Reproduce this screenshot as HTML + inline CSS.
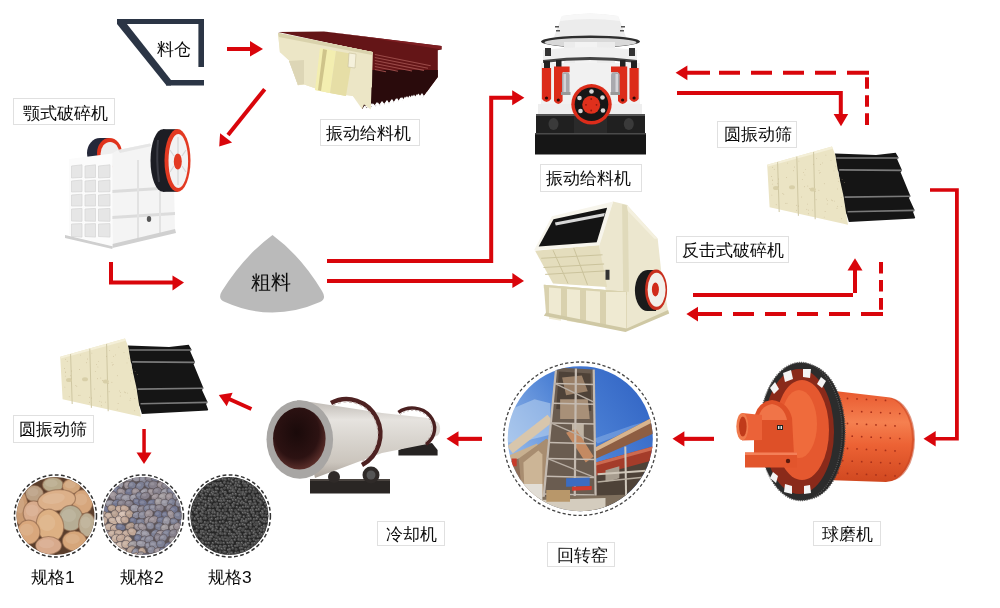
<!DOCTYPE html>
<html><head><meta charset="utf-8">
<style>
html,body{margin:0;padding:0;background:#fff;}
body{width:1000px;height:608px;position:relative;overflow:hidden;font-family:"Liberation Sans",sans-serif;}
svg{position:absolute;left:0;top:0;}
.bx{position:absolute;box-sizing:border-box;border:1px solid #e0e0e0;}
.tx{position:absolute;color:#0a0a0a;font-size:17.4px;line-height:1;white-space:nowrap;will-change:transform;}
</style></head><body>
<svg width="1000" height="608" viewBox="0 0 1000 608">
<defs></defs>
<!-- hopper -->
<g fill="#2b3545"><rect x="117" y="19" width="87" height="5"/><rect x="198.4" y="19" width="5.6" height="48"/><rect x="166" y="80" width="38" height="5.5"/><polygon points="117,19 123,19 171,80 171,85.5 166.5,85.5 117,24"/></g>
<g id="arrows" fill="#d9050b" stroke="none">
 <!-- hopper -> feeder -->
 <rect x="227" y="47" width="24" height="4"/><path d="M250,41 L263,49 L250,56.5Z"/>
 <!-- feeder -> jaw diagonal -->
 <path d="M264.7,89.2 L228,135" stroke="#d9050b" stroke-width="4"/><path d="M219.2,146.5 L220.1,133.2 L232.1,142.4Z"/>
 <!-- L arrow -->
 <path d="M109,262 H113 V280.5 H173 V284.5 H109Z"/><path d="M172.5,275.5 L184,282.5 L172.5,290.5Z"/>
 <!-- up path to cone -->
 <path d="M327,259 H489.2 V95.8 H513 V99.7 H493.2 V263 H327Z"/><path d="M512.2,90.2 L524.4,97.8 L512.2,105.3Z"/>
 <rect x="327" y="279" width="186" height="4"/><path d="M512.4,273 L524,281 L512.4,288Z"/>
 <!-- cone -> screen solid -->
 <path d="M677,91 H842.8 V115 H838.8 V95 H677Z"/><path d="M833.6,114 L848.2,114 L841,126.3Z"/>
 <!-- dashed return top -->
 <path d="M675.6,72.8 L687.4,65.6 L687.4,80.3Z"/>
 <path d="M687,72.8 H869" stroke="#d9050b" stroke-width="4" stroke-dasharray="23 9 21 11 21 11 21 11 21 11 23"/>
 <path d="M867,73 V125" stroke="#d9050b" stroke-width="4" stroke-dasharray="0 4.3 11.5 6.5 11.5 6.5 11.5"/>
 <!-- impact solid up -->
 <path d="M693,293 H857 V270 H853 V297 H693Z"/><path d="M847.5,270.5 L862.5,270.5 L855,258.3Z"/>
 <!-- dashed return bottom -->
 <path d="M686.4,314.1 L698,306.8 L698,321.5Z"/>
 <path d="M697,314.1 H883" stroke="#d9050b" stroke-width="4" stroke-dasharray="25 11 21 11 21 11 21 11 21 11 22"/>
 <path d="M881,262 V310" stroke="#d9050b" stroke-width="4" stroke-dasharray="11.5 6.5 11.5 6.5 11.8"/>
 <!-- screen -> ball mill -->
 <path d="M930,188.2 H958.8 V440.5 H935 V437 H955 V191.8 H930Z"/><path d="M923.5,438.8 L935.7,431 L935.7,446.5Z"/>
 <!-- ball -> kiln -->
 <rect x="684" y="436.8" width="30" height="4.1"/><path d="M672.5,438.8 L684.4,431.2 L684.4,446.5Z"/>
 <!-- kiln -> cooler -->
 <rect x="458" y="436.8" width="24" height="4.1"/><path d="M446.5,438.8 L458.5,431.2 L458.5,446.5Z"/>
 <!-- cooler -> screen2 -->
 <path d="M251.4,409 L228,398.5" stroke="#d9050b" stroke-width="4"/><path d="M218.8,395.1 L232.6,392.8 L226.7,406.3Z"/>
 <!-- down -->
 <rect x="142.3" y="429" width="3.5" height="24"/><path d="M136.5,452.5 L151.5,452.5 L144,464Z"/>
</g>
<g id="feeder">
 <polygon points="278,32 324,31.5 441.5,46 441.5,49.5 437.8,50.2 437.8,77 423,97 362,109 371,52" fill="#641517"/>
 <polygon points="324,31.5 441.5,46 441.5,49.5 372,38" fill="#7e1e22"/>
 <polygon points="372,70 437.8,70 437.8,77 423,97 362,109" fill="#2a0b0c"/>
 <g stroke="#9a4a48" stroke-width="1.1">
  <line x1="374.8" y1="54.5" x2="430.7" y2="65.7"/><line x1="374.8" y1="57.5" x2="428" y2="68.2"/><line x1="374.8" y1="60.5" x2="424" y2="70.4"/><line x1="374.8" y1="63.5" x2="412" y2="71"/><line x1="374.8" y1="66.5" x2="398" y2="71.2"/><line x1="374.8" y1="69.5" x2="386" y2="71.8"/>
 </g>
 <path d="M362,109.5 l2.5,-4 l2,3 l2.5,-4 l2,3 l2.5,-4 l2,3 l2.5,-4 l2,3 l2.5,-4 l2,3 l2.5,-4 l2,3 l2.5,-4 l2,3 l2.5,-4 l2,3 l2.5,-4 l2,3 l2.5,-4 l2,3 l2.5,-4 l2,3 l2.5,-4 l2,3 l2.5,-4 l2,3 L423,97.5 L423,112 L362,112Z" fill="#fff"/>
 <polygon points="278,33 372.6,52 372,86 362,109 352.8,96.1 325.8,92 304.2,84.4 297.9,85.3 289.8,61 279.9,52" fill="#ede7c8"/>
 <polygon points="278,33 372.6,52 372,55 279,37" fill="#d8d0aa"/>
 <polygon points="320,48 336,51 330,93 315,90" fill="#f2ebb0"/>
 <polygon points="323,49 327,50 321,91 318,90" fill="#cfc48a"/>
 <polygon points="336,51 353,54 346,96 330,93" fill="#e8e0a8"/>
 <polygon points="289,61 304,60 304,84 298,85" fill="#ddd6b6"/>
 <polygon points="351,54 357,55 356,68 350,67" fill="#f5f1dc" stroke="#c7bf9c" stroke-width="0.6"/>
 <polygon points="353,70 372,72 372,86 362,100 354,96" fill="#e2dcbc"/>
</g>
 <path d="M364,108 l3,-4 l2,3 l3,-4 l2,3 l3,-4 l2,3 l3,-4 l2,3 l3,-4 l2,3 l3,-4 l2,3 l3,-4 l2,3 l3,-4 l2,3 l3,-4 l2,3 l3,-4 l2,3 l3,-4 l2,3 l3,-4 l2,3 l3,-4 L428,96Z" fill="#fff"/>
 <polygon points="278,33 372.6,52 370.8,109.6 352.8,96.1 325.8,92 304.2,84.4 297.9,85.3 289.8,61 279.9,52" fill="#ece6c6"/>
 <polygon points="278,33 372.6,52 372,55 279,37" fill="#d9d2ac"/>
 <polygon points="320,48 336,51 330,93 315,90" fill="#f3eeb0"/>
 <polygon points="323,49 327,50 321,91 318,90" fill="#cfc48a"/>
 <polygon points="336,51 353,54 346,96 330,93" fill="#e6dea6"/>
 <polygon points="289,61 304,60 304,84 298,85" fill="#ddd6b6"/>
 <polygon points="349,53 356,54 355,68 348,67" fill="#f5f1dc" stroke="#c7bf9c" stroke-width="0.6"/>
</g>
<g id="jaw">
 <!-- small flywheel -->
 <ellipse cx="100" cy="153" rx="13" ry="15" fill="#25283a"/>
 <rect x="100" y="138" width="9" height="30" fill="#25283a"/>
 <ellipse cx="109.5" cy="153" rx="12.5" ry="15" fill="#e0331c"/>
 <ellipse cx="110" cy="154" rx="9.5" ry="12" fill="#eeeeee"/>
 <!-- body side -->
 <polygon points="112,153.5 118,150 150,143.5 152,170 174,182 175,232 112.4,246.3" fill="#f4f4f4"/>
 <polygon points="118,150 150,143.5 152,146 120,153" fill="#e6e6e6"/>
 <polygon points="112,190 175,186 175,189 112,193" fill="#dcdcdc"/>
 <polygon points="112,216 175,212 175,215 112,219" fill="#dcdcdc"/>
 <rect x="137" y="160" width="2" height="78" fill="#e2e2e2"/>
 <rect x="159" y="184" width="2" height="50" fill="#e2e2e2"/>
 <ellipse cx="149" cy="219" rx="2.2" ry="3" fill="#555"/>
 <polygon points="112.4,244 175,229 176,233 112.4,248" fill="#d0d0d0"/>
 <!-- front grid face -->
 <polygon points="69,159 112.4,153.5 112.4,246.3 69,235" fill="#fbfbfb"/>
 <g fill="#e6e6e6" stroke="#d4d4d4" stroke-width="0.7">
  <polygon points="71.5,166 82,164.8 82,177.4 71.5,178"/>
  <polygon points="85,166 95.5,164.8 95.5,177.4 85,178"/>
  <polygon points="98.5,166 110,164.8 110,177.4 98.5,178"/>
  <polygon points="71.5,181 82,180.0 82,191.7 71.5,192"/>
  <polygon points="85,181 95.5,180.0 95.5,191.7 85,192"/>
  <polygon points="98.5,181 110,180.0 110,191.7 98.5,192"/>
  <polygon points="71.5,195 82,194.2 82,206.0 71.5,206"/>
  <polygon points="85,195 95.5,194.2 95.5,206.0 85,206"/>
  <polygon points="98.5,195 110,194.2 110,206.0 98.5,206"/>
  <polygon points="71.5,209 82,208.4 82,221.3 71.5,221"/>
  <polygon points="85,209 95.5,208.4 95.5,221.3 85,221"/>
  <polygon points="98.5,209 110,208.4 110,221.3 98.5,221"/>
  <polygon points="71.5,224 82,223.6 82,237.1 71.5,236.5"/>
  <polygon points="85,224 95.5,223.6 95.5,237.1 85,236.5"/>
  <polygon points="98.5,224 110,223.6 110,237.1 98.5,236.5"/>
 </g>
 <polygon points="65,235 112.4,246.3 112.4,249 65,238" fill="#cfcfcf"/>
 <!-- big flywheel -->
 <ellipse cx="163" cy="160.5" rx="12.5" ry="31.3" fill="#1c1d24"/>
 <rect x="163" y="129.2" width="14.5" height="62.6" fill="#1c1d24"/>
 <path d="M158,140 Q156,160 159,182" stroke="#3a3b44" stroke-width="2" fill="none"/>
 <ellipse cx="177.5" cy="160.5" rx="13" ry="31.5" fill="#e33a22"/>
 <ellipse cx="178.3" cy="161" rx="9.8" ry="27" fill="#f2f2f2"/>
 <g stroke="#d6d6d6" stroke-width="1.2"><line x1="178" y1="137" x2="178" y2="153"/><line x1="178" y1="169" x2="178" y2="185"/><line x1="170" y1="150" x2="174" y2="156"/><line x1="186" y1="150" x2="182" y2="156"/><line x1="170" y1="172" x2="174" y2="166"/><line x1="186" y1="172" x2="182" y2="166"/></g>
 <ellipse cx="177.8" cy="161.5" rx="4" ry="8" fill="#e33a22"/>
</g>
<g id="cone">
 <!-- dome -->
 <path d="M562,16 Q590,11 618,16 L626,37 H554Z" fill="#ececec"/>
 <path d="M562,16 Q590,11 618,16 L620,21 Q590,17 560,21Z" fill="#f7f7f7"/>
 <g fill="#555"><rect x="555" y="26" width="4" height="1.5"/><rect x="556" y="30" width="4" height="1.5"/><rect x="621" y="26" width="4" height="1.5"/><rect x="620" y="30" width="4" height="1.5"/></g>
 <!-- ring -->
 <ellipse cx="590.5" cy="41.5" rx="49.5" ry="6" fill="#2e2e2e"/>
 <ellipse cx="590.5" cy="42.5" rx="46" ry="4.5" fill="#d9d9d9"/>
 <!-- body -->
 <rect x="564" y="42" width="51" height="70" fill="#ececec"/>
 <rect x="575" y="42" width="22" height="70" fill="#f3f3f3"/>
 <!-- collar -->
 <path d="M543,50 Q590,44 637,50 V62 Q590,56 543,62Z" fill="#f0f0f0"/>
 <path d="M543,60 Q590,54 637,60 V63 Q590,57 543,63Z" fill="#444"/>
 <rect x="545" y="48" width="6" height="8" fill="#333"/><rect x="629" y="48" width="6" height="8" fill="#333"/>
 <!-- side white body -->
 <path d="M541,63 H640 V108 H541Z" fill="#f1f1f1"/>
 <!-- red cylinders -->
 <g fill="#222"><rect x="544" y="61" width="6" height="7"/><rect x="556" y="60" width="5.5" height="7"/><rect x="620" y="60" width="5.5" height="7"/><rect x="631" y="61" width="6" height="7"/></g>
 <g fill="#dc2c1a">
  <path d="M541.9,68 H551.1 V99 Q546.5,105 541.9,99Z"/>
  <path d="M554,66.5 H569.6 V72.3 H562.6 V101 Q558.3,107 554,101Z"/>
  <path d="M611,66.5 H627.2 V101 Q622.6,107 618,101 V72.3 H611Z"/>
  <path d="M629.5,68 H638.7 V99 Q634.1,105 629.5,99Z"/>
 </g>
 <g fill="#2a0a08"><circle cx="546.5" cy="98" r="1.6"/><circle cx="558.3" cy="100" r="1.6"/><circle cx="622.6" cy="100" r="1.6"/><circle cx="634.1" cy="98" r="1.6"/></g>
 <!-- silver accumulators -->
 <rect x="562" y="72.3" width="7.6" height="22" rx="3" fill="#a9a9ae"/><rect x="563.5" y="74" width="2.5" height="19" fill="#d4d4d8"/>
 <rect x="561" y="92" width="9.5" height="3" fill="#999"/>
 <rect x="611" y="72.3" width="8.7" height="22" rx="3" fill="#a9a9ae"/><rect x="615.5" y="74" width="2.5" height="19" fill="#d4d4d8"/>
 <rect x="610.5" y="92" width="9.5" height="3" fill="#999"/>
 <!-- skirt -->
 <rect x="538" y="104" width="104" height="11" fill="#eeeeee"/>
 <!-- base -->
 <rect x="536" y="114" width="109" height="20" fill="#202020"/>
 <rect x="536" y="114" width="109" height="2" fill="#555"/>
 <ellipse cx="553.5" cy="124" rx="5" ry="6" fill="#3a3a3a"/><ellipse cx="628.8" cy="124" rx="5" ry="6" fill="#3a3a3a"/>
 <rect x="574" y="116" width="33" height="18" fill="#2a2a2a"/>
 <rect x="535" y="133" width="111" height="21.5" fill="#161616"/>
 <rect x="535" y="133" width="111" height="1.5" fill="#4a4a4a"/>
 <!-- center wheel -->
 <circle cx="591.5" cy="104.3" r="20.2" fill="#dc2c1a"/>
 <circle cx="591.5" cy="104.3" r="16.8" fill="#161616"/>
 <circle cx="591.2" cy="104.8" r="9" fill="#e0301c"/>
 <g fill="#d8d8d8"><circle cx="591.5" cy="91.5" r="2.3"/><circle cx="602.5" cy="97.5" r="2.3"/><circle cx="603" cy="110.5" r="2.3"/><circle cx="580.5" cy="111" r="2.3"/><circle cx="579.5" cy="98" r="2.3"/></g>
 <g fill="#8a1a10"><circle cx="591.2" cy="99" r="0.9"/><circle cx="596.5" cy="104.8" r="0.9"/><circle cx="586" cy="104.8" r="0.9"/><circle cx="591.2" cy="110.5" r="0.9"/></g>
</g>
<g id="screen1">
 <polygon points="834.9,153.4 876.1,155.1 895.7,152.7 898.5,157.6 897.1,159.0 902.0,170.2 900.6,172.2 910.4,196.0 909.0,198.1 914.5,210.0 913.1,212.1 915.2,217.7 914.5,218.4 848.9,222.1 846.8,214.9 845.1,212.1 843.3,196.7 841.9,195.3 838.4,171.6 837.0,169.5 835.6,159.0" fill="#151515"/>
 <line x1="836.3" y1="158.0" x2="898.5" y2="158.0" stroke="#7a7a7a" stroke-width="1.6"/>
 <line x1="839.1" y1="169.9" x2="902.0" y2="170.4" stroke="#7a7a7a" stroke-width="1.6"/>
 <line x1="844.7" y1="197.1" x2="910.4" y2="196.3" stroke="#7a7a7a" stroke-width="1.6"/>
 <line x1="847.5" y1="211.8" x2="914.5" y2="210.4" stroke="#7a7a7a" stroke-width="1.6"/>
 <polygon points="767.2,164.8 832.0,146.4 835.2,154.4 838.4,173.6 843.2,194.4 848.0,224.8 769.6,207.2" fill="#ebe4c4"/>
 <polygon points="767.2,164.8 832.0,146.4 832.8,148.8 768.0,166.4" fill="#f4efd8"/>
 <line x1="777.6" y1="162.1" x2="779.2" y2="212.0" stroke="#cfc7a2" stroke-width="1"/>
 <line x1="796.8" y1="156.7" x2="798.4" y2="215.8" stroke="#cfc7a2" stroke-width="1"/>
 <line x1="813.6" y1="152.0" x2="815.2" y2="219.2" stroke="#cfc7a2" stroke-width="1"/>
 <ellipse cx="776.0" cy="188.0" rx="3" ry="2" fill="#d8cfa8"/>
 <ellipse cx="792.0" cy="187.2" rx="3" ry="2" fill="#d8cfa8"/>
 <ellipse cx="812.8" cy="189.6" rx="3" ry="2" fill="#d8cfa8"/>
 <g fill="#b5a27a" opacity="0.7"><circle cx="841.7" cy="218.7" r="0.45"/><circle cx="774.2" cy="169.2" r="0.45"/><circle cx="832.7" cy="200.8" r="0.45"/><circle cx="820.2" cy="172.4" r="0.45"/><circle cx="815.4" cy="191.4" r="0.45"/><circle cx="813.6" cy="164.2" r="0.45"/><circle cx="802.3" cy="179.4" r="0.45"/><circle cx="824.2" cy="217.1" r="0.45"/><circle cx="841.2" cy="197.6" r="0.45"/><circle cx="803.4" cy="172.4" r="0.45"/><circle cx="772.7" cy="167.3" r="0.45"/><circle cx="804.9" cy="174.9" r="0.45"/><circle cx="798.5" cy="206.0" r="0.45"/><circle cx="809.4" cy="188.5" r="0.45"/><circle cx="787.7" cy="163.1" r="0.45"/><circle cx="794.4" cy="167.0" r="0.45"/><circle cx="808.3" cy="213.8" r="0.45"/><circle cx="820.6" cy="164.3" r="0.45"/><circle cx="837.0" cy="208.3" r="0.45"/><circle cx="825.1" cy="211.5" r="0.45"/><circle cx="827.2" cy="204.0" r="0.45"/><circle cx="796.5" cy="210.3" r="0.45"/><circle cx="842.1" cy="179.4" r="0.45"/><circle cx="826.6" cy="198.9" r="0.45"/><circle cx="804.6" cy="186.8" r="0.45"/><circle cx="806.8" cy="209.3" r="0.45"/><circle cx="807.6" cy="204.1" r="0.45"/><circle cx="796.5" cy="205.2" r="0.45"/><circle cx="837.5" cy="188.9" r="0.45"/><circle cx="812.6" cy="210.1" r="0.45"/><circle cx="824.3" cy="183.7" r="0.45"/><circle cx="786.6" cy="177.5" r="0.45"/><circle cx="822.5" cy="162.9" r="0.45"/><circle cx="838.1" cy="178.6" r="0.45"/><circle cx="838.4" cy="181.3" r="0.45"/><circle cx="841.8" cy="206.5" r="0.45"/><circle cx="807.8" cy="186.0" r="0.45"/><circle cx="818.9" cy="190.2" r="0.45"/><circle cx="793.4" cy="170.8" r="0.45"/><circle cx="808.4" cy="210.1" r="0.45"/><circle cx="816.7" cy="158.4" r="0.45"/><circle cx="831.5" cy="200.0" r="0.45"/><circle cx="838.1" cy="174.1" r="0.45"/><circle cx="825.9" cy="155.1" r="0.45"/><circle cx="819.0" cy="170.4" r="0.45"/><circle cx="787.0" cy="203.3" r="0.45"/><circle cx="778.0" cy="186.9" r="0.45"/><circle cx="834.0" cy="170.9" r="0.45"/><circle cx="785.8" cy="203.3" r="0.45"/><circle cx="801.7" cy="197.0" r="0.45"/><circle cx="772.4" cy="180.6" r="0.45"/><circle cx="782.9" cy="193.5" r="0.45"/><circle cx="776.2" cy="204.8" r="0.45"/><circle cx="771.9" cy="195.1" r="0.45"/><circle cx="771.6" cy="176.5" r="0.45"/><circle cx="831.0" cy="160.6" r="0.45"/><circle cx="783.8" cy="194.4" r="0.45"/><circle cx="798.9" cy="161.1" r="0.45"/><circle cx="844.3" cy="182.5" r="0.45"/><circle cx="772.7" cy="179.9" r="0.45"/><circle cx="816.1" cy="199.7" r="0.45"/><circle cx="778.5" cy="179.0" r="0.45"/><circle cx="772.3" cy="184.1" r="0.45"/><circle cx="827.4" cy="200.6" r="0.45"/><circle cx="837.7" cy="206.3" r="0.45"/><circle cx="834.7" cy="201.1" r="0.45"/><circle cx="805.5" cy="169.6" r="0.45"/><circle cx="819.6" cy="173.0" r="0.45"/><circle cx="777.7" cy="183.7" r="0.45"/><circle cx="835.6" cy="166.1" r="0.45"/></g>
</g>
<g id="screen2" transform="translate(-707,192)">
 <polygon points="834.9,153.4 876.1,155.1 895.7,152.7 898.5,157.6 897.1,159.0 902.0,170.2 900.6,172.2 910.4,196.0 909.0,198.1 914.5,210.0 913.1,212.1 915.2,217.7 914.5,218.4 848.9,222.1 846.8,214.9 845.1,212.1 843.3,196.7 841.9,195.3 838.4,171.6 837.0,169.5 835.6,159.0" fill="#151515"/>
 <line x1="836.3" y1="158.0" x2="898.5" y2="158.0" stroke="#7a7a7a" stroke-width="1.6"/>
 <line x1="839.1" y1="169.9" x2="902.0" y2="170.4" stroke="#7a7a7a" stroke-width="1.6"/>
 <line x1="844.7" y1="197.1" x2="910.4" y2="196.3" stroke="#7a7a7a" stroke-width="1.6"/>
 <line x1="847.5" y1="211.8" x2="914.5" y2="210.4" stroke="#7a7a7a" stroke-width="1.6"/>
 <polygon points="767.2,164.8 832.0,146.4 835.2,154.4 838.4,173.6 843.2,194.4 848.0,224.8 769.6,207.2" fill="#ebe4c4"/>
 <polygon points="767.2,164.8 832.0,146.4 832.8,148.8 768.0,166.4" fill="#f4efd8"/>
 <line x1="777.6" y1="162.1" x2="779.2" y2="212.0" stroke="#cfc7a2" stroke-width="1"/>
 <line x1="796.8" y1="156.7" x2="798.4" y2="215.8" stroke="#cfc7a2" stroke-width="1"/>
 <line x1="813.6" y1="152.0" x2="815.2" y2="219.2" stroke="#cfc7a2" stroke-width="1"/>
 <ellipse cx="776.0" cy="188.0" rx="3" ry="2" fill="#d8cfa8"/>
 <ellipse cx="792.0" cy="187.2" rx="3" ry="2" fill="#d8cfa8"/>
 <ellipse cx="812.8" cy="189.6" rx="3" ry="2" fill="#d8cfa8"/>
 <g fill="#b5a27a" opacity="0.7"><circle cx="841.7" cy="218.7" r="0.45"/><circle cx="774.2" cy="169.2" r="0.45"/><circle cx="832.7" cy="200.8" r="0.45"/><circle cx="820.2" cy="172.4" r="0.45"/><circle cx="815.4" cy="191.4" r="0.45"/><circle cx="813.6" cy="164.2" r="0.45"/><circle cx="802.3" cy="179.4" r="0.45"/><circle cx="824.2" cy="217.1" r="0.45"/><circle cx="841.2" cy="197.6" r="0.45"/><circle cx="803.4" cy="172.4" r="0.45"/><circle cx="772.7" cy="167.3" r="0.45"/><circle cx="804.9" cy="174.9" r="0.45"/><circle cx="798.5" cy="206.0" r="0.45"/><circle cx="809.4" cy="188.5" r="0.45"/><circle cx="787.7" cy="163.1" r="0.45"/><circle cx="794.4" cy="167.0" r="0.45"/><circle cx="808.3" cy="213.8" r="0.45"/><circle cx="820.6" cy="164.3" r="0.45"/><circle cx="837.0" cy="208.3" r="0.45"/><circle cx="825.1" cy="211.5" r="0.45"/><circle cx="827.2" cy="204.0" r="0.45"/><circle cx="796.5" cy="210.3" r="0.45"/><circle cx="842.1" cy="179.4" r="0.45"/><circle cx="826.6" cy="198.9" r="0.45"/><circle cx="804.6" cy="186.8" r="0.45"/><circle cx="806.8" cy="209.3" r="0.45"/><circle cx="807.6" cy="204.1" r="0.45"/><circle cx="796.5" cy="205.2" r="0.45"/><circle cx="837.5" cy="188.9" r="0.45"/><circle cx="812.6" cy="210.1" r="0.45"/><circle cx="824.3" cy="183.7" r="0.45"/><circle cx="786.6" cy="177.5" r="0.45"/><circle cx="822.5" cy="162.9" r="0.45"/><circle cx="838.1" cy="178.6" r="0.45"/><circle cx="838.4" cy="181.3" r="0.45"/><circle cx="841.8" cy="206.5" r="0.45"/><circle cx="807.8" cy="186.0" r="0.45"/><circle cx="818.9" cy="190.2" r="0.45"/><circle cx="793.4" cy="170.8" r="0.45"/><circle cx="808.4" cy="210.1" r="0.45"/><circle cx="816.7" cy="158.4" r="0.45"/><circle cx="831.5" cy="200.0" r="0.45"/><circle cx="838.1" cy="174.1" r="0.45"/><circle cx="825.9" cy="155.1" r="0.45"/><circle cx="819.0" cy="170.4" r="0.45"/><circle cx="787.0" cy="203.3" r="0.45"/><circle cx="778.0" cy="186.9" r="0.45"/><circle cx="834.0" cy="170.9" r="0.45"/><circle cx="785.8" cy="203.3" r="0.45"/><circle cx="801.7" cy="197.0" r="0.45"/><circle cx="772.4" cy="180.6" r="0.45"/><circle cx="782.9" cy="193.5" r="0.45"/><circle cx="776.2" cy="204.8" r="0.45"/><circle cx="771.9" cy="195.1" r="0.45"/><circle cx="771.6" cy="176.5" r="0.45"/><circle cx="831.0" cy="160.6" r="0.45"/><circle cx="783.8" cy="194.4" r="0.45"/><circle cx="798.9" cy="161.1" r="0.45"/><circle cx="844.3" cy="182.5" r="0.45"/><circle cx="772.7" cy="179.9" r="0.45"/><circle cx="816.1" cy="199.7" r="0.45"/><circle cx="778.5" cy="179.0" r="0.45"/><circle cx="772.3" cy="184.1" r="0.45"/><circle cx="827.4" cy="200.6" r="0.45"/><circle cx="837.7" cy="206.3" r="0.45"/><circle cx="834.7" cy="201.1" r="0.45"/><circle cx="805.5" cy="169.6" r="0.45"/><circle cx="819.6" cy="173.0" r="0.45"/><circle cx="777.7" cy="183.7" r="0.45"/><circle cx="835.6" cy="166.1" r="0.45"/></g>
</g>

<g id="impact">
 <polygon points="599.0,244.5 612.9,201.4 626.7,204.7 657.7,238.7 661.2,270.9 668.1,311.2 623.2,330.8 605.9,291.7" fill="#ece7cf"/>
 <polygon points="622.1,204.2 627.8,205.4 629.0,291.7 623.2,291.7" fill="#e0dabb"/>
 <polygon points="626.7,204.7 657.7,238.7 654.3,238.7 627.8,211.1" fill="#f4f0de"/>
 <polygon points="543.8,284.8 626.7,291.7 626.7,330.8 546.1,314.7" fill="#d9d1ae"/>
 <polygon points="543.8,284.8 626.7,291.7 626.7,295.1 543.8,288.2" fill="#d9d2ae"/>
 <polygon points="549,287.5 561,288.5 561,320.8 549,318.8" fill="#efeAD2"/>
 <polygon points="567,289 580,290 580,323 567,321" fill="#efeAD2"/>
 <polygon points="586,290.5 600,291.5 600,326 586,323.5" fill="#efeAD2"/>
 <polygon points="606,292 626,292 626,330.5 606,326.5" fill="#efeAD2"/>
 <polygon points="546.1,312.4 626.7,328.5 668.1,310.1 669.2,313.5 625.5,331.9 543.8,315.8" fill="#cfc8a4"/>
 <polygon points="535.1,250.7 599.0,244.9 607.1,287.1 553.0,283.6" fill="#e4ddbd"/>
 <line x1="541.2" y1="258.3" x2="602.5" y2="254.8" stroke="#cbc39c" stroke-width="1"/>
 <line x1="543.5" y1="267.5" x2="604.1" y2="264.0" stroke="#cbc39c" stroke-width="1"/>
 <line x1="545.2" y1="274.4" x2="605.3" y2="270.9" stroke="#cbc39c" stroke-width="1"/>
 <line x1="553.0" y1="250.2" x2="568.0" y2="283.6" stroke="#cbc39c" stroke-width="1"/>
 <line x1="573.7" y1="247.9" x2="587.5" y2="284.8" stroke="#cbc39c" stroke-width="1"/>
 <polygon points="534.1,250.2 551.9,216.2 613.3,201.4 599.5,245.2" fill="#f7f5ec"/>
 <polygon points="538.7,246.6 553.5,219.2 607.1,207.7 596.7,242.2" fill="#141414"/>
 <polygon points="554.9,222.6 604.8,213.0 604.1,216.2 555.8,225.4" fill="#d8d8d8"/>
 <rect x="605.5" y="269.8" width="4" height="10" fill="#333"/>
 <ellipse cx="647.4" cy="290.5" rx="12.5" ry="20.5" fill="#1b1b1b"/>
 <rect x="647.4" y="270.0" width="8.7" height="41" fill="#1b1b1b"/>
 <ellipse cx="656.1" cy="289.8" rx="11" ry="20.3" fill="#c8301f"/>
 <ellipse cx="656.6" cy="289.8" rx="9" ry="17" fill="#f2f0ea"/>
 <ellipse cx="655.4" cy="289.4" rx="3.5" ry="7" fill="#d12a1a"/>
</g>
<g id="ballmill">
 <defs>
  <linearGradient id="bmg" x1="0" y1="0" x2="0" y2="1">
   <stop offset="0" stop-color="#e8582e"/><stop offset="0.35" stop-color="#f58050"/><stop offset="0.6" stop-color="#ec6234"/><stop offset="1" stop-color="#d04820"/>
  </linearGradient>
 </defs>
 <!-- cylinder -->
 <path d="M826,390 L886,397 A28,42.5 0 0 1 886,482 L826,480Z" fill="url(#bmg)"/>
 <path d="M884,397 A28,42.5 0 0 1 884,482 L890,481 A25,41.5 0 0 0 890,398Z" fill="#c94320" opacity="0.55"/>
 <g fill="#a8301a"><circle cx="838.0" cy="398.0" r="0.9"/><circle cx="847.5" cy="398.5" r="0.9"/><circle cx="857.0" cy="398.9" r="0.9"/><circle cx="866.5" cy="399.4" r="0.9"/><circle cx="876.0" cy="399.9" r="0.9"/><circle cx="885.5" cy="400.4" r="0.9"/><circle cx="842.7" cy="410.7" r="0.9"/><circle cx="852.2" cy="411.2" r="0.9"/><circle cx="861.7" cy="411.7" r="0.9"/><circle cx="871.2" cy="412.2" r="0.9"/><circle cx="880.7" cy="412.6" r="0.9"/><circle cx="890.2" cy="413.1" r="0.9"/><circle cx="899.7" cy="413.6" r="0.9"/><circle cx="838.0" cy="423.0" r="0.9"/><circle cx="847.5" cy="423.5" r="0.9"/><circle cx="857.0" cy="423.9" r="0.9"/><circle cx="866.5" cy="424.4" r="0.9"/><circle cx="876.0" cy="424.9" r="0.9"/><circle cx="885.5" cy="425.4" r="0.9"/><circle cx="895.0" cy="425.9" r="0.9"/><circle cx="842.7" cy="435.7" r="0.9"/><circle cx="852.2" cy="436.2" r="0.9"/><circle cx="861.7" cy="436.7" r="0.9"/><circle cx="871.2" cy="437.2" r="0.9"/><circle cx="880.7" cy="437.6" r="0.9"/><circle cx="890.2" cy="438.1" r="0.9"/><circle cx="899.7" cy="438.6" r="0.9"/><circle cx="838.0" cy="448.0" r="0.9"/><circle cx="847.5" cy="448.5" r="0.9"/><circle cx="857.0" cy="448.9" r="0.9"/><circle cx="866.5" cy="449.4" r="0.9"/><circle cx="876.0" cy="449.9" r="0.9"/><circle cx="885.5" cy="450.4" r="0.9"/><circle cx="895.0" cy="450.9" r="0.9"/><circle cx="842.7" cy="460.7" r="0.9"/><circle cx="852.2" cy="461.2" r="0.9"/><circle cx="861.7" cy="461.7" r="0.9"/><circle cx="871.2" cy="462.2" r="0.9"/><circle cx="880.7" cy="462.6" r="0.9"/><circle cx="890.2" cy="463.1" r="0.9"/><circle cx="899.7" cy="463.6" r="0.9"/><circle cx="838.0" cy="473.0" r="0.9"/><circle cx="847.5" cy="473.5" r="0.9"/><circle cx="857.0" cy="473.9" r="0.9"/><circle cx="866.5" cy="474.4" r="0.9"/><circle cx="876.0" cy="474.9" r="0.9"/><circle cx="885.5" cy="475.4" r="0.9"/><circle cx="895.0" cy="475.9" r="0.9"/></g>
 <!-- gear ring -->
 <ellipse cx="807" cy="432" rx="38" ry="67" fill="#262626"/>
 <ellipse cx="807" cy="432" rx="38" ry="67" fill="none" stroke="#4a4a4a" stroke-width="1.5" stroke-dasharray="1 1.3"/>
 <ellipse cx="800.9" cy="431.5" rx="41.3" ry="69.1" fill="#2c2c2c"/>
 <ellipse cx="800.9" cy="431.5" rx="41.3" ry="69.1" fill="none" stroke="#555" stroke-width="1.4" stroke-dasharray="1 1.2"/>
 <ellipse cx="799" cy="431.5" rx="35" ry="62.5" fill="#8a2a1a"/>
 <g fill="#f4f4f4">
  <path d="M783,373 l8,-3 l2,9 l-8,3Z"/><path d="M803,369 l8,0 l-1,9 l-7,-1Z"/><path d="M821,377 l5,4 l-4,7 l-5,-4Z"/>
  <path d="M770,388 l5,-6 l4,7 l-5,5Z"/><path d="M765,410 l3,-6 l4,5 l-3,6Z"/><path d="M765,455 l4,5 l3,-6 l-4,-4Z"/><path d="M770,478 l6,5 l2,-7 l-5,-4Z"/><path d="M784,492 l8,2 l0,-8 l-7,-2Z"/><path d="M804,494 l7,-1 l-1,-8 l-6,1Z"/>
 </g>
 <ellipse cx="802" cy="430" rx="27" ry="50" fill="#e5582f"/>
 <ellipse cx="799" cy="424" rx="18" ry="34" fill="#ef6b3c"/>
 <!-- bearing & trunnion -->
 <path d="M754,455 L754,420 Q756,402 772,400 Q788,402 792,418 L794,455Z" fill="#de5028"/>
 <path d="M758,420 Q760,406 772,404 Q784,406 787,420Z" fill="#f07448"/>
 <path d="M745,452.5 H797 V467.5 H745Z" fill="#e2552c"/>
 <path d="M745,452.5 H797 V455 H745Z" fill="#f48058"/>
 <circle cx="788" cy="461" r="2.2" fill="#5a1a0e"/>
 <path d="M742,413 L762,415 L762,440 L742,440.4Z" fill="#eb6238"/>
 <ellipse cx="742.3" cy="426.6" rx="6" ry="13.5" fill="#f07a4c"/>
 <ellipse cx="742.8" cy="426.6" rx="3.8" ry="10" fill="#c03a1a"/>
 <rect x="777" y="425" width="6" height="5" fill="#222"/><rect x="778" y="426" width="1.5" height="3" fill="#ddd"/><rect x="780.5" y="426" width="1.5" height="3" fill="#ddd"/>
</g>
<g id="cooler">
 <defs>
  <linearGradient id="tubeg" x1="0" y1="0" x2="0" y2="1">
   <stop offset="0" stop-color="#bdb8b2"/><stop offset="0.25" stop-color="#e6e3df"/><stop offset="0.5" stop-color="#d9d5cf"/><stop offset="0.8" stop-color="#cbc5bd"/><stop offset="1" stop-color="#a9a199"/>
  </linearGradient>
  <radialGradient id="holeg" cx="0.45" cy="0.4" r="0.6">
   <stop offset="0" stop-color="#1a0a0a"/><stop offset="0.7" stop-color="#2c1212"/><stop offset="1" stop-color="#5a2e2a"/>
  </radialGradient>
 </defs>
 <!-- base 2 -->
 <path d="M398.4,450 L410,446 L432,443 L437.6,450 L437.6,455.4 L398.4,455.4Z" fill="#262322"/>
 <!-- tube -->
 <path d="M297,400 L330,405 L382,413 L426,417.8 L436,421.5 A4,7 0 0 1 436,436 L426,444.3 L382,453 L315,478 Z" fill="url(#tubeg)"/>
 <!-- riding ring 2 -->
 <path d="M398.4,412.3 A20.5,18.5 0 1 1 426,444.3" fill="none" stroke="#4a2020" stroke-width="3.4"/>
 <path d="M400,414.5 A18.5,17 0 1 1 425,442" fill="none" stroke="#b8aaa8" stroke-width="1" stroke-dasharray="2 2"/>
 <!-- base 1 -->
 <rect x="310" y="479" width="80" height="14.5" fill="#2a2624"/>
 <rect x="310" y="479" width="80" height="2" fill="#4a4440"/>
 <circle cx="371" cy="475" r="8.5" fill="#2f2a28"/><circle cx="371" cy="475" r="4.5" fill="#555"/>
 <circle cx="334" cy="477" r="6" fill="#2f2a28"/>
 <!-- riding ring 1 -->
 <path d="M331,403 A33,34 0 1 1 362,465" fill="none" stroke="#4e2222" stroke-width="4.5"/>
 <path d="M333,405.5 A30.5,31.5 0 1 1 361,462" fill="none" stroke="#c9bcb8" stroke-width="1.2" stroke-dasharray="3 2.5"/>
 <!-- front ring -->
 <ellipse cx="299.8" cy="439.5" rx="33.3" ry="39.3" fill="#a8a6a4"/>
 <ellipse cx="299.3" cy="438.6" rx="26.3" ry="31" fill="url(#holeg)"/>
</g>
<g id="kiln">
 <defs>
  <clipPath id="kclip"><circle cx="580.3" cy="438.7" r="72.5"/></clipPath>
  <linearGradient id="skyg" x1="1" y1="0" x2="0" y2="0.7">
   <stop offset="0" stop-color="#2a5cbf"/><stop offset="0.5" stop-color="#4a7fd4"/><stop offset="1" stop-color="#a6c6ee"/>
  </linearGradient>
 </defs>
 <g clip-path="url(#kclip)">
  <rect x="500" y="360" width="160" height="160" fill="url(#skyg)"/>
  <polygon points="506.8,411.1 534.5,399.2 550.3,403.2 550.3,434.7 518.7,442.6 506.8,442.6" fill="#c4daf2" opacity="0.5"/>
  <line x1="510.0" y1="449.7" x2="550.3" y2="418.2" stroke="#d8c6ac" stroke-width="9"/>
  <line x1="510.8" y1="458.4" x2="538.4" y2="446.6" stroke="#c8b090" stroke-width="7"/>
  <polygon points="518.7,458.4 546.3,438.7 552.2,442.6 552.2,501.8 518.7,501.8" fill="#a88d70"/>
  <polygon points="523.4,462.4 538.4,450.5 542.4,454.5 542.4,497.9 524.6,497.9" fill="#ccb596"/>
  <polygon points="506.8,462.4 518.7,458.4 522.6,501.8 506.8,501.8" fill="#8e6e58"/>
  <polygon points="511.6,458.4 516.7,458.4 516.7,466.3 511.6,466.3" fill="#c83a2a"/>
  <polygon points="593.7,438.7 633.2,424.9 656.8,418.9 656.8,422.9 633.2,430.0 597.6,443.4" fill="#b0caee" opacity="0.35"/>
  <polygon points="583.4,478.9 650.9,458.4 656.8,456.8 656.8,521.6 583.4,521.6" fill="#4e4238"/>
  <polygon points="583.4,465.9 650.9,447.0 656.8,445.8 656.8,459.2 583.4,478.9" fill="#a43c2a"/>
  <polygon points="583.4,465.9 650.9,447.0 656.8,445.8 656.8,448.9 583.4,469.1" fill="#cc6a50"/>
  <polygon points="586.6,452.1 650.9,418.2 656.8,416.6 656.8,432.0 588.2,462.0" fill="#8e5e42"/>
  <polygon points="586.6,452.1 650.9,418.2 656.8,416.6 656.8,420.1 587.4,455.7" fill="#d8b48e"/>
  <polygon points="605.5,470.3 619.3,466.3 619.3,478.2 605.5,482.1" fill="#a89e90"/>
  <polygon points="556.2,367.6 593.7,369.6 595.7,501.8 543.2,501.8" fill="#6a5c50"/>
  <polygon points="558.9,371.6 590.5,373.6 591.3,411.1 556.2,409.1" fill="#4e4238"/>
  <polygon points="562.1,377.5 581.8,375.5 587.8,391.3 566.1,395.3" fill="#9a8068"/>
  <polygon points="560.1,399.2 587.8,399.2 589.7,418.9 560.1,418.9" fill="#a89078"/>
  <polygon points="572.0,422.9 583.8,422.9 583.8,442.6 572.0,442.6" fill="#c0b4a4"/>
  <polygon points="566.1,432.8 575.9,428.8 593.7,456.4 585.8,462.4" fill="#c48a62"/>
  <line x1="556.2" y1="367.6" x2="543.2" y2="501.8" stroke="#c4bab0" stroke-width="2.2"/>
  <line x1="593.7" y1="369.6" x2="595.7" y2="501.8" stroke="#c4bab0" stroke-width="2.2"/>
  <line x1="575.9" y1="368.4" x2="574.7" y2="501.8" stroke="#c4bab0" stroke-width="2.2"/>
  <line x1="554.6" y1="383.4" x2="594.5" y2="384.6" stroke="#c4bab0" stroke-width="1.5"/>
  <line x1="552.6" y1="403.2" x2="594.5" y2="404.3" stroke="#c4bab0" stroke-width="1.5"/>
  <line x1="550.7" y1="422.9" x2="594.5" y2="424.1" stroke="#c4bab0" stroke-width="1.5"/>
  <line x1="548.7" y1="442.6" x2="594.5" y2="443.8" stroke="#c4bab0" stroke-width="1.5"/>
  <line x1="547.1" y1="458.4" x2="594.5" y2="459.6" stroke="#c4bab0" stroke-width="1.5"/>
  <line x1="545.3" y1="476.2" x2="594.5" y2="477.4" stroke="#c4bab0" stroke-width="1.5"/>
  <line x1="543.6" y1="493.9" x2="594.5" y2="495.1" stroke="#c4bab0" stroke-width="1.5"/>
  <line x1="554.6" y1="383.4" x2="594.5" y2="402.4" stroke="#b8aea4" stroke-width="1.3"/>
  <line x1="550.7" y1="422.9" x2="594.5" y2="441.8" stroke="#b8aea4" stroke-width="1.3"/>
  <line x1="547.1" y1="458.4" x2="594.5" y2="477.4" stroke="#b8aea4" stroke-width="1.3"/>
  <polygon points="506.8,497.9 656.8,493.9 656.8,521.6 506.8,521.6" fill="#7e6e5c"/>
  <polygon points="518.7,484.1 542.4,484.1 542.4,501.8 518.7,501.8" fill="#e2ded6"/>
  <polygon points="566.1,478.2 589.7,477.4 589.7,486.1 566.1,486.8" fill="#3c6cc0"/>
  <polygon points="572.0,486.8 591.7,486.1 591.7,490.0 572.0,490.8" fill="#d03a2c"/>
  <polygon points="538.4,499.9 605.5,497.9 605.5,521.6 538.4,521.6" fill="#d4ccbe"/>
  <polygon points="546.3,490.0 570.0,490.0 570.0,501.8 546.3,501.8" fill="#b8976a"/>
  <line x1="625.3" y1="446.6" x2="626.1" y2="497.9" stroke="#d0c8bc" stroke-width="2"/>
  <line x1="597.6" y1="474.2" x2="652.9" y2="470.3" stroke="#cfc6b8" stroke-width="2"/>
  <line x1="597.6" y1="482.1" x2="652.9" y2="476.2" stroke="#b8aea0" stroke-width="1.5"/>
 </g>
 <circle cx="580.3" cy="438.7" r="76.7" fill="none" stroke="#444" stroke-width="1.3" stroke-dasharray="3.2 2.2"/>
</g>
<g id="materials">
 <defs>
  <clipPath id="mc0"><circle cx="55.5" cy="516" r="39"/></clipPath>
  <clipPath id="mc1"><circle cx="142.5" cy="516" r="39"/></clipPath>
  <clipPath id="mc2"><circle cx="229.4" cy="516" r="39"/></clipPath>
 </defs>
 <g clip-path="url(#mc0)">
  <rect x="14" y="474" width="84" height="84" fill="#5a3e2c"/>
  <ellipse cx="52.9" cy="484.8" rx="10.5" ry="7.5" transform="rotate(0 52.9 484.8)" fill="#b9ab8c" stroke="#8a6248" stroke-width="1.2" stroke-opacity="0.6"/>
  <ellipse cx="51.3" cy="483.3" rx="6.3" ry="3.8" transform="rotate(0 52.9 484.8)" fill="#fff" opacity="0.1"/>
  <ellipse cx="71.4" cy="486.3" rx="9" ry="7.5" transform="rotate(0 71.4 486.3)" fill="#d2a67c" stroke="#8a6248" stroke-width="1.2" stroke-opacity="0.6"/>
  <ellipse cx="70.1" cy="484.8" rx="5.4" ry="3.8" transform="rotate(0 71.4 486.3)" fill="#fff" opacity="0.1"/>
  <ellipse cx="34.4" cy="493.7" rx="9" ry="8.2" transform="rotate(0 34.4 493.7)" fill="#bba084" stroke="#8a6248" stroke-width="1.2" stroke-opacity="0.6"/>
  <ellipse cx="33.0" cy="492.1" rx="5.4" ry="4.1" transform="rotate(0 34.4 493.7)" fill="#fff" opacity="0.1"/>
  <ellipse cx="82.5" cy="501.8" rx="10.5" ry="12" transform="rotate(0 82.5 501.8)" fill="#d6a67c" stroke="#8a6248" stroke-width="1.2" stroke-opacity="0.6"/>
  <ellipse cx="80.9" cy="499.4" rx="6.3" ry="6.0" transform="rotate(0 82.5 501.8)" fill="#fff" opacity="0.1"/>
  <ellipse cx="21.1" cy="508.5" rx="7" ry="17" transform="rotate(0 21.1 508.5)" fill="#c99a72" stroke="#8a6248" stroke-width="1.2" stroke-opacity="0.6"/>
  <ellipse cx="20.1" cy="505.1" rx="4.2" ry="8.5" transform="rotate(0 21.1 508.5)" fill="#fff" opacity="0.1"/>
  <ellipse cx="33.7" cy="512.9" rx="10.5" ry="12" transform="rotate(0 33.7 512.9)" fill="#d8ab8c" stroke="#8a6248" stroke-width="1.2" stroke-opacity="0.6"/>
  <ellipse cx="32.1" cy="510.5" rx="6.3" ry="6.0" transform="rotate(0 33.7 512.9)" fill="#fff" opacity="0.1"/>
  <ellipse cx="56.6" cy="500.3" rx="19" ry="10.5" transform="rotate(-8 56.6 500.3)" fill="#dcb089" stroke="#8a6248" stroke-width="1.2" stroke-opacity="0.6"/>
  <ellipse cx="53.8" cy="498.2" rx="11.4" ry="5.2" transform="rotate(-8 56.6 500.3)" fill="#fff" opacity="0.1"/>
  <ellipse cx="70.7" cy="518.1" rx="12" ry="12.8" transform="rotate(0 70.7 518.1)" fill="#b6ad94" stroke="#8a6248" stroke-width="1.2" stroke-opacity="0.6"/>
  <ellipse cx="68.9" cy="515.5" rx="7.2" ry="6.4" transform="rotate(0 70.7 518.1)" fill="#fff" opacity="0.1"/>
  <ellipse cx="87" cy="524.8" rx="8.4" ry="12" transform="rotate(0 87 524.8)" fill="#bcae94" stroke="#8a6248" stroke-width="1.2" stroke-opacity="0.6"/>
  <ellipse cx="85.7" cy="522.4" rx="5.0" ry="6.0" transform="rotate(0 87 524.8)" fill="#fff" opacity="0.1"/>
  <ellipse cx="50" cy="525.5" rx="13.5" ry="16.5" transform="rotate(-15 50 525.5)" fill="#ddb083" stroke="#8a6248" stroke-width="1.2" stroke-opacity="0.6"/>
  <ellipse cx="48.0" cy="522.2" rx="8.1" ry="8.2" transform="rotate(-15 50 525.5)" fill="#fff" opacity="0.1"/>
  <ellipse cx="28.5" cy="532.2" rx="11.4" ry="12" transform="rotate(0 28.5 532.2)" fill="#d9a77c" stroke="#8a6248" stroke-width="1.2" stroke-opacity="0.6"/>
  <ellipse cx="26.8" cy="529.8" rx="6.8" ry="6.0" transform="rotate(0 28.5 532.2)" fill="#fff" opacity="0.1"/>
  <ellipse cx="74.4" cy="541" rx="12" ry="10" transform="rotate(0 74.4 541)" fill="#d6a67a" stroke="#8a6248" stroke-width="1.2" stroke-opacity="0.6"/>
  <ellipse cx="72.6" cy="539.0" rx="7.2" ry="5.0" transform="rotate(0 74.4 541)" fill="#fff" opacity="0.1"/>
  <ellipse cx="48.5" cy="545.5" rx="13" ry="9" transform="rotate(0 48.5 545.5)" fill="#d8aa8c" stroke="#8a6248" stroke-width="1.2" stroke-opacity="0.6"/>
  <ellipse cx="46.5" cy="543.7" rx="7.8" ry="4.5" transform="rotate(0 48.5 545.5)" fill="#fff" opacity="0.1"/>
 </g>

 <g clip-path="url(#mc1)">
  <rect x="101" y="474" width="84" height="84" fill="#5c5458"/>
  <ellipse cx="139.9" cy="472.3" rx="4.1" ry="3.4" transform="rotate(28 139.9 472.3)" fill="#86808c" stroke="#5a5256" stroke-width="0.6"/>
  <ellipse cx="138.9" cy="471.3" rx="1.8" ry="1.4" fill="#fff" opacity="0.13"/>
  <ellipse cx="124.2" cy="478.2" rx="4.3" ry="3.5" transform="rotate(-40 124.2 478.2)" fill="#9a9096" stroke="#5a5256" stroke-width="0.6"/>
  <ellipse cx="123.2" cy="477.2" rx="1.9" ry="1.4" fill="#fff" opacity="0.13"/>
  <ellipse cx="128.2" cy="477.9" rx="4.8" ry="3.7" transform="rotate(12 128.2 477.9)" fill="#9896a2" stroke="#5a5256" stroke-width="0.6"/>
  <ellipse cx="127.2" cy="476.9" rx="2.2" ry="1.5" fill="#fff" opacity="0.13"/>
  <ellipse cx="137.2" cy="477.9" rx="4.8" ry="3.6" transform="rotate(-22 137.2 477.9)" fill="#9896a2" stroke="#5a5256" stroke-width="0.6"/>
  <ellipse cx="136.2" cy="476.9" rx="2.2" ry="1.4" fill="#fff" opacity="0.13"/>
  <ellipse cx="143.4" cy="479.5" rx="4.3" ry="4.0" transform="rotate(54 143.4 479.5)" fill="#8a8a9a" stroke="#5a5256" stroke-width="0.6"/>
  <ellipse cx="142.4" cy="478.5" rx="1.9" ry="1.6" fill="#fff" opacity="0.13"/>
  <ellipse cx="150.0" cy="478.8" rx="4.8" ry="3.5" transform="rotate(9 150.0 478.8)" fill="#86808c" stroke="#5a5256" stroke-width="0.6"/>
  <ellipse cx="149.0" cy="477.8" rx="2.2" ry="1.4" fill="#fff" opacity="0.13"/>
  <ellipse cx="155.7" cy="477.8" rx="4.6" ry="4.0" transform="rotate(-46 155.7 477.8)" fill="#7c7f94" stroke="#5a5256" stroke-width="0.6"/>
  <ellipse cx="154.7" cy="476.8" rx="2.1" ry="1.6" fill="#fff" opacity="0.13"/>
  <ellipse cx="163.6" cy="479.8" rx="4.3" ry="3.5" transform="rotate(3 163.6 479.8)" fill="#9a9096" stroke="#5a5256" stroke-width="0.6"/>
  <ellipse cx="162.6" cy="478.8" rx="2.0" ry="1.4" fill="#fff" opacity="0.13"/>
  <ellipse cx="113.5" cy="485.1" rx="4.7" ry="3.4" transform="rotate(36 113.5 485.1)" fill="#9896a2" stroke="#5a5256" stroke-width="0.6"/>
  <ellipse cx="112.5" cy="484.1" rx="2.1" ry="1.4" fill="#fff" opacity="0.13"/>
  <ellipse cx="119.5" cy="485.6" rx="5.0" ry="3.3" transform="rotate(-54 119.5 485.6)" fill="#9896a2" stroke="#5a5256" stroke-width="0.6"/>
  <ellipse cx="118.5" cy="484.6" rx="2.2" ry="1.3" fill="#fff" opacity="0.13"/>
  <ellipse cx="127.8" cy="485.1" rx="4.0" ry="3.8" transform="rotate(-19 127.8 485.1)" fill="#9a9096" stroke="#5a5256" stroke-width="0.6"/>
  <ellipse cx="126.8" cy="484.1" rx="1.8" ry="1.5" fill="#fff" opacity="0.13"/>
  <ellipse cx="132.1" cy="485.4" rx="4.1" ry="3.9" transform="rotate(-56 132.1 485.4)" fill="#7c7f94" stroke="#5a5256" stroke-width="0.6"/>
  <ellipse cx="131.1" cy="484.4" rx="1.8" ry="1.6" fill="#fff" opacity="0.13"/>
  <ellipse cx="140.0" cy="485.9" rx="5.0" ry="3.7" transform="rotate(-44 140.0 485.9)" fill="#7c7f94" stroke="#5a5256" stroke-width="0.6"/>
  <ellipse cx="139.0" cy="484.9" rx="2.2" ry="1.5" fill="#fff" opacity="0.13"/>
  <ellipse cx="148.4" cy="484.8" rx="4.4" ry="3.3" transform="rotate(41 148.4 484.8)" fill="#7c7f94" stroke="#5a5256" stroke-width="0.6"/>
  <ellipse cx="147.4" cy="483.8" rx="2.0" ry="1.3" fill="#fff" opacity="0.13"/>
  <ellipse cx="153.3" cy="484.9" rx="4.9" ry="4.0" transform="rotate(-6 153.3 484.9)" fill="#86808c" stroke="#5a5256" stroke-width="0.6"/>
  <ellipse cx="152.3" cy="483.9" rx="2.2" ry="1.6" fill="#fff" opacity="0.13"/>
  <ellipse cx="161.0" cy="485.6" rx="4.3" ry="3.6" transform="rotate(48 161.0 485.6)" fill="#9a9096" stroke="#5a5256" stroke-width="0.6"/>
  <ellipse cx="160.0" cy="484.6" rx="1.9" ry="1.4" fill="#fff" opacity="0.13"/>
  <ellipse cx="166.6" cy="485.8" rx="5.0" ry="3.7" transform="rotate(-0 166.6 485.8)" fill="#86808c" stroke="#5a5256" stroke-width="0.6"/>
  <ellipse cx="165.6" cy="484.8" rx="2.2" ry="1.5" fill="#fff" opacity="0.13"/>
  <ellipse cx="109.2" cy="491.4" rx="4.3" ry="3.6" transform="rotate(20 109.2 491.4)" fill="#a09a9e" stroke="#5a5256" stroke-width="0.6"/>
  <ellipse cx="108.2" cy="490.4" rx="1.9" ry="1.5" fill="#fff" opacity="0.13"/>
  <ellipse cx="116.7" cy="490.4" rx="4.7" ry="4.0" transform="rotate(-19 116.7 490.4)" fill="#727690" stroke="#5a5256" stroke-width="0.6"/>
  <ellipse cx="115.7" cy="489.4" rx="2.1" ry="1.6" fill="#fff" opacity="0.13"/>
  <ellipse cx="121.3" cy="491.9" rx="4.5" ry="3.4" transform="rotate(21 121.3 491.9)" fill="#9a9096" stroke="#5a5256" stroke-width="0.6"/>
  <ellipse cx="120.3" cy="490.9" rx="2.0" ry="1.4" fill="#fff" opacity="0.13"/>
  <ellipse cx="129.4" cy="491.8" rx="4.7" ry="3.5" transform="rotate(-27 129.4 491.8)" fill="#727690" stroke="#5a5256" stroke-width="0.6"/>
  <ellipse cx="128.4" cy="490.8" rx="2.1" ry="1.4" fill="#fff" opacity="0.13"/>
  <ellipse cx="135.9" cy="492.1" rx="4.4" ry="3.9" transform="rotate(44 135.9 492.1)" fill="#9a9096" stroke="#5a5256" stroke-width="0.6"/>
  <ellipse cx="134.9" cy="491.1" rx="2.0" ry="1.5" fill="#fff" opacity="0.13"/>
  <ellipse cx="144.2" cy="492.2" rx="4.5" ry="3.6" transform="rotate(-40 144.2 492.2)" fill="#9896a2" stroke="#5a5256" stroke-width="0.6"/>
  <ellipse cx="143.2" cy="491.2" rx="2.0" ry="1.4" fill="#fff" opacity="0.13"/>
  <ellipse cx="151.7" cy="492.1" rx="4.3" ry="3.3" transform="rotate(21 151.7 492.1)" fill="#9a9096" stroke="#5a5256" stroke-width="0.6"/>
  <ellipse cx="150.7" cy="491.1" rx="1.9" ry="1.3" fill="#fff" opacity="0.13"/>
  <ellipse cx="157.2" cy="491.3" rx="4.5" ry="3.9" transform="rotate(-24 157.2 491.3)" fill="#86808c" stroke="#5a5256" stroke-width="0.6"/>
  <ellipse cx="156.2" cy="490.3" rx="2.0" ry="1.6" fill="#fff" opacity="0.13"/>
  <ellipse cx="164.7" cy="492.0" rx="4.7" ry="3.2" transform="rotate(-41 164.7 492.0)" fill="#9896a2" stroke="#5a5256" stroke-width="0.6"/>
  <ellipse cx="163.7" cy="491.0" rx="2.1" ry="1.3" fill="#fff" opacity="0.13"/>
  <ellipse cx="171.3" cy="491.4" rx="4.8" ry="3.3" transform="rotate(26 171.3 491.4)" fill="#7c7f94" stroke="#5a5256" stroke-width="0.6"/>
  <ellipse cx="170.3" cy="490.4" rx="2.1" ry="1.3" fill="#fff" opacity="0.13"/>
  <ellipse cx="104.7" cy="496.6" rx="4.6" ry="3.7" transform="rotate(-31 104.7 496.6)" fill="#727690" stroke="#5a5256" stroke-width="0.6"/>
  <ellipse cx="103.7" cy="495.6" rx="2.1" ry="1.5" fill="#fff" opacity="0.13"/>
  <ellipse cx="113.5" cy="495.7" rx="5.0" ry="3.9" transform="rotate(44 113.5 495.7)" fill="#9a9096" stroke="#5a5256" stroke-width="0.6"/>
  <ellipse cx="112.5" cy="494.7" rx="2.2" ry="1.6" fill="#fff" opacity="0.13"/>
  <ellipse cx="119.7" cy="497.1" rx="4.5" ry="3.4" transform="rotate(-25 119.7 497.1)" fill="#8a8a9a" stroke="#5a5256" stroke-width="0.6"/>
  <ellipse cx="118.7" cy="496.1" rx="2.0" ry="1.4" fill="#fff" opacity="0.13"/>
  <ellipse cx="126.0" cy="498.2" rx="5.0" ry="3.9" transform="rotate(-10 126.0 498.2)" fill="#9896a2" stroke="#5a5256" stroke-width="0.6"/>
  <ellipse cx="125.0" cy="497.2" rx="2.2" ry="1.5" fill="#fff" opacity="0.13"/>
  <ellipse cx="134.1" cy="497.4" rx="4.5" ry="3.3" transform="rotate(-14 134.1 497.4)" fill="#9896a2" stroke="#5a5256" stroke-width="0.6"/>
  <ellipse cx="133.1" cy="496.4" rx="2.0" ry="1.3" fill="#fff" opacity="0.13"/>
  <ellipse cx="139.9" cy="496.2" rx="4.6" ry="3.5" transform="rotate(47 139.9 496.2)" fill="#7c7f94" stroke="#5a5256" stroke-width="0.6"/>
  <ellipse cx="138.9" cy="495.2" rx="2.1" ry="1.4" fill="#fff" opacity="0.13"/>
  <ellipse cx="145.2" cy="496.0" rx="4.9" ry="3.6" transform="rotate(-21 145.2 496.0)" fill="#86808c" stroke="#5a5256" stroke-width="0.6"/>
  <ellipse cx="144.2" cy="495.0" rx="2.2" ry="1.5" fill="#fff" opacity="0.13"/>
  <ellipse cx="155.4" cy="497.2" rx="4.4" ry="3.4" transform="rotate(-25 155.4 497.2)" fill="#9a9096" stroke="#5a5256" stroke-width="0.6"/>
  <ellipse cx="154.4" cy="496.2" rx="2.0" ry="1.4" fill="#fff" opacity="0.13"/>
  <ellipse cx="162.7" cy="496.7" rx="4.9" ry="3.7" transform="rotate(-29 162.7 496.7)" fill="#a09a9e" stroke="#5a5256" stroke-width="0.6"/>
  <ellipse cx="161.7" cy="495.7" rx="2.2" ry="1.5" fill="#fff" opacity="0.13"/>
  <ellipse cx="169.7" cy="497.0" rx="4.0" ry="4.0" transform="rotate(-23 169.7 497.0)" fill="#9a9096" stroke="#5a5256" stroke-width="0.6"/>
  <ellipse cx="168.7" cy="496.0" rx="1.8" ry="1.6" fill="#fff" opacity="0.13"/>
  <ellipse cx="176.5" cy="496.1" rx="4.1" ry="3.7" transform="rotate(-7 176.5 496.1)" fill="#8a8a9a" stroke="#5a5256" stroke-width="0.6"/>
  <ellipse cx="175.5" cy="495.1" rx="1.9" ry="1.5" fill="#fff" opacity="0.13"/>
  <ellipse cx="181.3" cy="497.7" rx="4.4" ry="3.6" transform="rotate(7 181.3 497.7)" fill="#a09a9e" stroke="#5a5256" stroke-width="0.6"/>
  <ellipse cx="180.3" cy="496.7" rx="2.0" ry="1.4" fill="#fff" opacity="0.13"/>
  <ellipse cx="109.7" cy="503.6" rx="4.3" ry="3.7" transform="rotate(-3 109.7 503.6)" fill="#9896a2" stroke="#5a5256" stroke-width="0.6"/>
  <ellipse cx="108.7" cy="502.6" rx="1.9" ry="1.5" fill="#fff" opacity="0.13"/>
  <ellipse cx="116.0" cy="503.3" rx="4.9" ry="3.2" transform="rotate(-45 116.0 503.3)" fill="#727690" stroke="#5a5256" stroke-width="0.6"/>
  <ellipse cx="115.0" cy="502.3" rx="2.2" ry="1.3" fill="#fff" opacity="0.13"/>
  <ellipse cx="121.7" cy="503.5" rx="4.3" ry="3.6" transform="rotate(-4 121.7 503.5)" fill="#86808c" stroke="#5a5256" stroke-width="0.6"/>
  <ellipse cx="120.7" cy="502.5" rx="1.9" ry="1.4" fill="#fff" opacity="0.13"/>
  <ellipse cx="129.0" cy="503.6" rx="4.1" ry="3.2" transform="rotate(6 129.0 503.6)" fill="#86808c" stroke="#5a5256" stroke-width="0.6"/>
  <ellipse cx="128.0" cy="502.6" rx="1.9" ry="1.3" fill="#fff" opacity="0.13"/>
  <ellipse cx="137.2" cy="502.0" rx="4.5" ry="3.2" transform="rotate(33 137.2 502.0)" fill="#727690" stroke="#5a5256" stroke-width="0.6"/>
  <ellipse cx="136.2" cy="501.0" rx="2.0" ry="1.3" fill="#fff" opacity="0.13"/>
  <ellipse cx="143.2" cy="503.2" rx="5.0" ry="3.7" transform="rotate(43 143.2 503.2)" fill="#727690" stroke="#5a5256" stroke-width="0.6"/>
  <ellipse cx="142.2" cy="502.2" rx="2.2" ry="1.5" fill="#fff" opacity="0.13"/>
  <ellipse cx="151.7" cy="502.9" rx="4.9" ry="3.4" transform="rotate(-24 151.7 502.9)" fill="#727690" stroke="#5a5256" stroke-width="0.6"/>
  <ellipse cx="150.7" cy="501.9" rx="2.2" ry="1.3" fill="#fff" opacity="0.13"/>
  <ellipse cx="158.7" cy="501.9" rx="4.0" ry="3.8" transform="rotate(10 158.7 501.9)" fill="#a09a9e" stroke="#5a5256" stroke-width="0.6"/>
  <ellipse cx="157.7" cy="500.9" rx="1.8" ry="1.5" fill="#fff" opacity="0.13"/>
  <ellipse cx="165.0" cy="502.9" rx="4.1" ry="3.6" transform="rotate(6 165.0 502.9)" fill="#9896a2" stroke="#5a5256" stroke-width="0.6"/>
  <ellipse cx="164.0" cy="501.9" rx="1.9" ry="1.4" fill="#fff" opacity="0.13"/>
  <ellipse cx="171.5" cy="502.6" rx="4.4" ry="3.6" transform="rotate(-54 171.5 502.6)" fill="#7c7f94" stroke="#5a5256" stroke-width="0.6"/>
  <ellipse cx="170.5" cy="501.6" rx="2.0" ry="1.5" fill="#fff" opacity="0.13"/>
  <ellipse cx="179.3" cy="502.4" rx="4.8" ry="3.7" transform="rotate(-57 179.3 502.4)" fill="#8a8a9a" stroke="#5a5256" stroke-width="0.6"/>
  <ellipse cx="178.3" cy="501.4" rx="2.2" ry="1.5" fill="#fff" opacity="0.13"/>
  <ellipse cx="104.0" cy="509.4" rx="4.9" ry="4.0" transform="rotate(25 104.0 509.4)" fill="#727690" stroke="#5a5256" stroke-width="0.6"/>
  <ellipse cx="103.0" cy="508.4" rx="2.2" ry="1.6" fill="#fff" opacity="0.13"/>
  <ellipse cx="111.8" cy="508.2" rx="4.1" ry="3.4" transform="rotate(7 111.8 508.2)" fill="#b8a090" stroke="#5a5256" stroke-width="0.6"/>
  <ellipse cx="110.8" cy="507.2" rx="1.8" ry="1.3" fill="#fff" opacity="0.13"/>
  <ellipse cx="119.6" cy="509.6" rx="4.6" ry="3.8" transform="rotate(45 119.6 509.6)" fill="#c0a696" stroke="#5a5256" stroke-width="0.6"/>
  <ellipse cx="118.6" cy="508.6" rx="2.1" ry="1.5" fill="#fff" opacity="0.13"/>
  <ellipse cx="124.7" cy="508.8" rx="4.5" ry="3.5" transform="rotate(19 124.7 508.8)" fill="#c0a696" stroke="#5a5256" stroke-width="0.6"/>
  <ellipse cx="123.7" cy="507.8" rx="2.0" ry="1.4" fill="#fff" opacity="0.13"/>
  <ellipse cx="134.5" cy="508.1" rx="4.2" ry="3.7" transform="rotate(1 134.5 508.1)" fill="#9896a2" stroke="#5a5256" stroke-width="0.6"/>
  <ellipse cx="133.5" cy="507.1" rx="1.9" ry="1.5" fill="#fff" opacity="0.13"/>
  <ellipse cx="141.5" cy="509.1" rx="4.2" ry="3.3" transform="rotate(-32 141.5 509.1)" fill="#86808c" stroke="#5a5256" stroke-width="0.6"/>
  <ellipse cx="140.5" cy="508.1" rx="1.9" ry="1.3" fill="#fff" opacity="0.13"/>
  <ellipse cx="148.2" cy="508.4" rx="4.8" ry="3.9" transform="rotate(-6 148.2 508.4)" fill="#7c7f94" stroke="#5a5256" stroke-width="0.6"/>
  <ellipse cx="147.2" cy="507.4" rx="2.2" ry="1.6" fill="#fff" opacity="0.13"/>
  <ellipse cx="153.6" cy="508.0" rx="4.7" ry="3.3" transform="rotate(20 153.6 508.0)" fill="#8a8a9a" stroke="#5a5256" stroke-width="0.6"/>
  <ellipse cx="152.6" cy="507.0" rx="2.1" ry="1.3" fill="#fff" opacity="0.13"/>
  <ellipse cx="159.5" cy="508.0" rx="4.5" ry="3.5" transform="rotate(-4 159.5 508.0)" fill="#86808c" stroke="#5a5256" stroke-width="0.6"/>
  <ellipse cx="158.5" cy="507.0" rx="2.0" ry="1.4" fill="#fff" opacity="0.13"/>
  <ellipse cx="169.7" cy="508.0" rx="4.0" ry="3.8" transform="rotate(-54 169.7 508.0)" fill="#86808c" stroke="#5a5256" stroke-width="0.6"/>
  <ellipse cx="168.7" cy="507.0" rx="1.8" ry="1.5" fill="#fff" opacity="0.13"/>
  <ellipse cx="173.7" cy="510.2" rx="4.8" ry="3.8" transform="rotate(-50 173.7 510.2)" fill="#727690" stroke="#5a5256" stroke-width="0.6"/>
  <ellipse cx="172.7" cy="509.2" rx="2.2" ry="1.5" fill="#fff" opacity="0.13"/>
  <ellipse cx="183.5" cy="509.0" rx="4.1" ry="3.7" transform="rotate(-17 183.5 509.0)" fill="#7c7f94" stroke="#5a5256" stroke-width="0.6"/>
  <ellipse cx="182.5" cy="508.0" rx="1.9" ry="1.5" fill="#fff" opacity="0.13"/>
  <ellipse cx="101.9" cy="514.6" rx="4.7" ry="3.5" transform="rotate(-24 101.9 514.6)" fill="#b8a090" stroke="#5a5256" stroke-width="0.6"/>
  <ellipse cx="100.9" cy="513.6" rx="2.1" ry="1.4" fill="#fff" opacity="0.13"/>
  <ellipse cx="109.0" cy="516.2" rx="4.6" ry="3.7" transform="rotate(29 109.0 516.2)" fill="#c6ae9e" stroke="#5a5256" stroke-width="0.6"/>
  <ellipse cx="108.0" cy="515.2" rx="2.1" ry="1.5" fill="#fff" opacity="0.13"/>
  <ellipse cx="115.1" cy="514.0" rx="4.2" ry="3.6" transform="rotate(52 115.1 514.0)" fill="#b8a090" stroke="#5a5256" stroke-width="0.6"/>
  <ellipse cx="114.1" cy="513.0" rx="1.9" ry="1.4" fill="#fff" opacity="0.13"/>
  <ellipse cx="123.1" cy="514.6" rx="4.9" ry="3.7" transform="rotate(-9 123.1 514.6)" fill="#d2bcae" stroke="#5a5256" stroke-width="0.6"/>
  <ellipse cx="122.1" cy="513.6" rx="2.2" ry="1.5" fill="#fff" opacity="0.13"/>
  <ellipse cx="129.4" cy="514.0" rx="4.1" ry="3.9" transform="rotate(44 129.4 514.0)" fill="#b8a090" stroke="#5a5256" stroke-width="0.6"/>
  <ellipse cx="128.4" cy="513.0" rx="1.8" ry="1.6" fill="#fff" opacity="0.13"/>
  <ellipse cx="136.4" cy="515.1" rx="4.3" ry="3.3" transform="rotate(-26 136.4 515.1)" fill="#8a8a9a" stroke="#5a5256" stroke-width="0.6"/>
  <ellipse cx="135.4" cy="514.1" rx="1.9" ry="1.3" fill="#fff" opacity="0.13"/>
  <ellipse cx="142.5" cy="515.0" rx="4.3" ry="3.8" transform="rotate(-22 142.5 515.0)" fill="#8a8a9a" stroke="#5a5256" stroke-width="0.6"/>
  <ellipse cx="141.5" cy="514.0" rx="2.0" ry="1.5" fill="#fff" opacity="0.13"/>
  <ellipse cx="148.9" cy="513.8" rx="4.5" ry="4.0" transform="rotate(-46 148.9 513.8)" fill="#9a9096" stroke="#5a5256" stroke-width="0.6"/>
  <ellipse cx="147.9" cy="512.8" rx="2.0" ry="1.6" fill="#fff" opacity="0.13"/>
  <ellipse cx="158.1" cy="514.5" rx="4.2" ry="4.0" transform="rotate(-56 158.1 514.5)" fill="#727690" stroke="#5a5256" stroke-width="0.6"/>
  <ellipse cx="157.1" cy="513.5" rx="1.9" ry="1.6" fill="#fff" opacity="0.13"/>
  <ellipse cx="165.3" cy="515.2" rx="4.1" ry="3.5" transform="rotate(57 165.3 515.2)" fill="#727690" stroke="#5a5256" stroke-width="0.6"/>
  <ellipse cx="164.3" cy="514.2" rx="1.8" ry="1.4" fill="#fff" opacity="0.13"/>
  <ellipse cx="171.0" cy="514.5" rx="4.4" ry="3.3" transform="rotate(59 171.0 514.5)" fill="#9a9096" stroke="#5a5256" stroke-width="0.6"/>
  <ellipse cx="170.0" cy="513.5" rx="2.0" ry="1.3" fill="#fff" opacity="0.13"/>
  <ellipse cx="178.4" cy="515.7" rx="4.7" ry="4.0" transform="rotate(18 178.4 515.7)" fill="#7c7f94" stroke="#5a5256" stroke-width="0.6"/>
  <ellipse cx="177.4" cy="514.7" rx="2.1" ry="1.6" fill="#fff" opacity="0.13"/>
  <ellipse cx="185.3" cy="516.2" rx="4.5" ry="3.6" transform="rotate(22 185.3 516.2)" fill="#8a8a9a" stroke="#5a5256" stroke-width="0.6"/>
  <ellipse cx="184.3" cy="515.2" rx="2.0" ry="1.4" fill="#fff" opacity="0.13"/>
  <ellipse cx="99.2" cy="521.9" rx="4.7" ry="3.4" transform="rotate(36 99.2 521.9)" fill="#c6ae9e" stroke="#5a5256" stroke-width="0.6"/>
  <ellipse cx="98.2" cy="520.9" rx="2.1" ry="1.4" fill="#fff" opacity="0.13"/>
  <ellipse cx="103.5" cy="520.9" rx="4.5" ry="3.8" transform="rotate(-54 103.5 520.9)" fill="#c6ae9e" stroke="#5a5256" stroke-width="0.6"/>
  <ellipse cx="102.5" cy="519.9" rx="2.0" ry="1.5" fill="#fff" opacity="0.13"/>
  <ellipse cx="113.2" cy="520.9" rx="5.0" ry="3.4" transform="rotate(23 113.2 520.9)" fill="#c6ae9e" stroke="#5a5256" stroke-width="0.6"/>
  <ellipse cx="112.2" cy="519.9" rx="2.2" ry="1.3" fill="#fff" opacity="0.13"/>
  <ellipse cx="119.5" cy="520.2" rx="4.8" ry="3.3" transform="rotate(58 119.5 520.2)" fill="#d2bcae" stroke="#5a5256" stroke-width="0.6"/>
  <ellipse cx="118.5" cy="519.2" rx="2.2" ry="1.3" fill="#fff" opacity="0.13"/>
  <ellipse cx="124.8" cy="519.9" rx="4.0" ry="3.6" transform="rotate(-2 124.8 519.9)" fill="#c0a696" stroke="#5a5256" stroke-width="0.6"/>
  <ellipse cx="123.8" cy="518.9" rx="1.8" ry="1.5" fill="#fff" opacity="0.13"/>
  <ellipse cx="133.3" cy="520.7" rx="4.1" ry="3.2" transform="rotate(31 133.3 520.7)" fill="#727690" stroke="#5a5256" stroke-width="0.6"/>
  <ellipse cx="132.3" cy="519.7" rx="1.9" ry="1.3" fill="#fff" opacity="0.13"/>
  <ellipse cx="140.7" cy="522.0" rx="4.6" ry="3.3" transform="rotate(-2 140.7 522.0)" fill="#7c7f94" stroke="#5a5256" stroke-width="0.6"/>
  <ellipse cx="139.7" cy="521.0" rx="2.0" ry="1.3" fill="#fff" opacity="0.13"/>
  <ellipse cx="148.0" cy="520.4" rx="4.3" ry="3.3" transform="rotate(-50 148.0 520.4)" fill="#9a9096" stroke="#5a5256" stroke-width="0.6"/>
  <ellipse cx="147.0" cy="519.4" rx="1.9" ry="1.3" fill="#fff" opacity="0.13"/>
  <ellipse cx="153.1" cy="519.9" rx="5.0" ry="3.7" transform="rotate(-27 153.1 519.9)" fill="#9a9096" stroke="#5a5256" stroke-width="0.6"/>
  <ellipse cx="152.1" cy="518.9" rx="2.2" ry="1.5" fill="#fff" opacity="0.13"/>
  <ellipse cx="161.0" cy="520.3" rx="4.2" ry="3.4" transform="rotate(-15 161.0 520.3)" fill="#727690" stroke="#5a5256" stroke-width="0.6"/>
  <ellipse cx="160.0" cy="519.3" rx="1.9" ry="1.4" fill="#fff" opacity="0.13"/>
  <ellipse cx="166.6" cy="520.8" rx="4.4" ry="3.8" transform="rotate(-60 166.6 520.8)" fill="#9896a2" stroke="#5a5256" stroke-width="0.6"/>
  <ellipse cx="165.6" cy="519.8" rx="2.0" ry="1.5" fill="#fff" opacity="0.13"/>
  <ellipse cx="174.2" cy="522.1" rx="4.6" ry="3.6" transform="rotate(38 174.2 522.1)" fill="#7c7f94" stroke="#5a5256" stroke-width="0.6"/>
  <ellipse cx="173.2" cy="521.1" rx="2.1" ry="1.4" fill="#fff" opacity="0.13"/>
  <ellipse cx="182.6" cy="522.2" rx="4.0" ry="3.5" transform="rotate(-47 182.6 522.2)" fill="#727690" stroke="#5a5256" stroke-width="0.6"/>
  <ellipse cx="181.6" cy="521.2" rx="1.8" ry="1.4" fill="#fff" opacity="0.13"/>
  <ellipse cx="100.9" cy="526.5" rx="4.7" ry="3.4" transform="rotate(-52 100.9 526.5)" fill="#ad978a" stroke="#5a5256" stroke-width="0.6"/>
  <ellipse cx="99.9" cy="525.5" rx="2.1" ry="1.4" fill="#fff" opacity="0.13"/>
  <ellipse cx="109.4" cy="527.1" rx="5.0" ry="3.9" transform="rotate(-8 109.4 527.1)" fill="#c6ae9e" stroke="#5a5256" stroke-width="0.6"/>
  <ellipse cx="108.4" cy="526.1" rx="2.2" ry="1.5" fill="#fff" opacity="0.13"/>
  <ellipse cx="114.6" cy="528.2" rx="4.4" ry="3.5" transform="rotate(-20 114.6 528.2)" fill="#c0a696" stroke="#5a5256" stroke-width="0.6"/>
  <ellipse cx="113.6" cy="527.2" rx="2.0" ry="1.4" fill="#fff" opacity="0.13"/>
  <ellipse cx="120.7" cy="527.2" rx="5.0" ry="3.4" transform="rotate(13 120.7 527.2)" fill="#727690" stroke="#5a5256" stroke-width="0.6"/>
  <ellipse cx="119.7" cy="526.2" rx="2.2" ry="1.4" fill="#fff" opacity="0.13"/>
  <ellipse cx="130.0" cy="526.1" rx="4.8" ry="3.3" transform="rotate(-22 130.0 526.1)" fill="#ad978a" stroke="#5a5256" stroke-width="0.6"/>
  <ellipse cx="129.0" cy="525.1" rx="2.2" ry="1.3" fill="#fff" opacity="0.13"/>
  <ellipse cx="138.0" cy="526.9" rx="4.2" ry="3.2" transform="rotate(20 138.0 526.9)" fill="#9a9096" stroke="#5a5256" stroke-width="0.6"/>
  <ellipse cx="137.0" cy="525.9" rx="1.9" ry="1.3" fill="#fff" opacity="0.13"/>
  <ellipse cx="142.3" cy="526.9" rx="4.6" ry="3.3" transform="rotate(38 142.3 526.9)" fill="#9a9096" stroke="#5a5256" stroke-width="0.6"/>
  <ellipse cx="141.3" cy="525.9" rx="2.1" ry="1.3" fill="#fff" opacity="0.13"/>
  <ellipse cx="150.2" cy="525.8" rx="4.0" ry="3.7" transform="rotate(-2 150.2 525.8)" fill="#8a8a9a" stroke="#5a5256" stroke-width="0.6"/>
  <ellipse cx="149.2" cy="524.8" rx="1.8" ry="1.5" fill="#fff" opacity="0.13"/>
  <ellipse cx="158.9" cy="526.7" rx="4.2" ry="3.9" transform="rotate(-24 158.9 526.7)" fill="#7c7f94" stroke="#5a5256" stroke-width="0.6"/>
  <ellipse cx="157.9" cy="525.7" rx="1.9" ry="1.5" fill="#fff" opacity="0.13"/>
  <ellipse cx="164.6" cy="527.7" rx="4.2" ry="3.5" transform="rotate(-30 164.6 527.7)" fill="#a09a9e" stroke="#5a5256" stroke-width="0.6"/>
  <ellipse cx="163.6" cy="526.7" rx="1.9" ry="1.4" fill="#fff" opacity="0.13"/>
  <ellipse cx="173.2" cy="527.9" rx="4.1" ry="3.6" transform="rotate(-18 173.2 527.9)" fill="#a09a9e" stroke="#5a5256" stroke-width="0.6"/>
  <ellipse cx="172.2" cy="526.9" rx="1.8" ry="1.4" fill="#fff" opacity="0.13"/>
  <ellipse cx="177.2" cy="526.3" rx="4.0" ry="3.3" transform="rotate(-48 177.2 526.3)" fill="#9a9096" stroke="#5a5256" stroke-width="0.6"/>
  <ellipse cx="176.2" cy="525.3" rx="1.8" ry="1.3" fill="#fff" opacity="0.13"/>
  <ellipse cx="106.3" cy="533.3" rx="4.7" ry="3.3" transform="rotate(13 106.3 533.3)" fill="#9a9096" stroke="#5a5256" stroke-width="0.6"/>
  <ellipse cx="105.3" cy="532.3" rx="2.1" ry="1.3" fill="#fff" opacity="0.13"/>
  <ellipse cx="112.4" cy="533.8" rx="4.6" ry="3.6" transform="rotate(0 112.4 533.8)" fill="#c6ae9e" stroke="#5a5256" stroke-width="0.6"/>
  <ellipse cx="111.4" cy="532.8" rx="2.1" ry="1.4" fill="#fff" opacity="0.13"/>
  <ellipse cx="119.2" cy="533.5" rx="4.9" ry="3.8" transform="rotate(20 119.2 533.5)" fill="#c0a696" stroke="#5a5256" stroke-width="0.6"/>
  <ellipse cx="118.2" cy="532.5" rx="2.2" ry="1.5" fill="#fff" opacity="0.13"/>
  <ellipse cx="126.1" cy="533.8" rx="4.0" ry="3.8" transform="rotate(-35 126.1 533.8)" fill="#c0a696" stroke="#5a5256" stroke-width="0.6"/>
  <ellipse cx="125.1" cy="532.8" rx="1.8" ry="1.5" fill="#fff" opacity="0.13"/>
  <ellipse cx="132.2" cy="531.8" rx="4.6" ry="3.8" transform="rotate(26 132.2 531.8)" fill="#c0a696" stroke="#5a5256" stroke-width="0.6"/>
  <ellipse cx="131.2" cy="530.8" rx="2.1" ry="1.5" fill="#fff" opacity="0.13"/>
  <ellipse cx="139.3" cy="534.1" rx="4.9" ry="3.4" transform="rotate(-55 139.3 534.1)" fill="#9896a2" stroke="#5a5256" stroke-width="0.6"/>
  <ellipse cx="138.3" cy="533.1" rx="2.2" ry="1.4" fill="#fff" opacity="0.13"/>
  <ellipse cx="145.5" cy="534.2" rx="4.9" ry="3.8" transform="rotate(41 145.5 534.2)" fill="#9896a2" stroke="#5a5256" stroke-width="0.6"/>
  <ellipse cx="144.5" cy="533.2" rx="2.2" ry="1.5" fill="#fff" opacity="0.13"/>
  <ellipse cx="154.9" cy="533.3" rx="4.5" ry="3.3" transform="rotate(-45 154.9 533.3)" fill="#7c7f94" stroke="#5a5256" stroke-width="0.6"/>
  <ellipse cx="153.9" cy="532.3" rx="2.0" ry="1.3" fill="#fff" opacity="0.13"/>
  <ellipse cx="160.4" cy="533.7" rx="4.4" ry="3.2" transform="rotate(-13 160.4 533.7)" fill="#9a9096" stroke="#5a5256" stroke-width="0.6"/>
  <ellipse cx="159.4" cy="532.7" rx="2.0" ry="1.3" fill="#fff" opacity="0.13"/>
  <ellipse cx="166.8" cy="533.4" rx="4.9" ry="3.7" transform="rotate(-14 166.8 533.4)" fill="#7c7f94" stroke="#5a5256" stroke-width="0.6"/>
  <ellipse cx="165.8" cy="532.4" rx="2.2" ry="1.5" fill="#fff" opacity="0.13"/>
  <ellipse cx="173.6" cy="533.5" rx="4.7" ry="4.0" transform="rotate(-30 173.6 533.5)" fill="#86808c" stroke="#5a5256" stroke-width="0.6"/>
  <ellipse cx="172.6" cy="532.5" rx="2.1" ry="1.6" fill="#fff" opacity="0.13"/>
  <ellipse cx="180.6" cy="532.5" rx="4.3" ry="3.7" transform="rotate(48 180.6 532.5)" fill="#a09a9e" stroke="#5a5256" stroke-width="0.6"/>
  <ellipse cx="179.6" cy="531.5" rx="1.9" ry="1.5" fill="#fff" opacity="0.13"/>
  <ellipse cx="106.9" cy="539.2" rx="4.4" ry="3.4" transform="rotate(-2 106.9 539.2)" fill="#727690" stroke="#5a5256" stroke-width="0.6"/>
  <ellipse cx="105.9" cy="538.2" rx="2.0" ry="1.4" fill="#fff" opacity="0.13"/>
  <ellipse cx="115.8" cy="538.3" rx="4.6" ry="4.0" transform="rotate(-38 115.8 538.3)" fill="#c6ae9e" stroke="#5a5256" stroke-width="0.6"/>
  <ellipse cx="114.8" cy="537.3" rx="2.1" ry="1.6" fill="#fff" opacity="0.13"/>
  <ellipse cx="120.8" cy="538.0" rx="4.6" ry="3.5" transform="rotate(-21 120.8 538.0)" fill="#c0a696" stroke="#5a5256" stroke-width="0.6"/>
  <ellipse cx="119.8" cy="537.0" rx="2.1" ry="1.4" fill="#fff" opacity="0.13"/>
  <ellipse cx="128.1" cy="539.7" rx="4.1" ry="3.6" transform="rotate(40 128.1 539.7)" fill="#c6ae9e" stroke="#5a5256" stroke-width="0.6"/>
  <ellipse cx="127.1" cy="538.7" rx="1.8" ry="1.4" fill="#fff" opacity="0.13"/>
  <ellipse cx="138.1" cy="538.5" rx="4.4" ry="3.9" transform="rotate(47 138.1 538.5)" fill="#727690" stroke="#5a5256" stroke-width="0.6"/>
  <ellipse cx="137.1" cy="537.5" rx="2.0" ry="1.6" fill="#fff" opacity="0.13"/>
  <ellipse cx="143.9" cy="539.8" rx="4.2" ry="3.3" transform="rotate(-49 143.9 539.8)" fill="#8a8a9a" stroke="#5a5256" stroke-width="0.6"/>
  <ellipse cx="142.9" cy="538.8" rx="1.9" ry="1.3" fill="#fff" opacity="0.13"/>
  <ellipse cx="149.2" cy="539.3" rx="4.6" ry="3.6" transform="rotate(-21 149.2 539.3)" fill="#8a8a9a" stroke="#5a5256" stroke-width="0.6"/>
  <ellipse cx="148.2" cy="538.3" rx="2.1" ry="1.4" fill="#fff" opacity="0.13"/>
  <ellipse cx="158.5" cy="538.2" rx="5.0" ry="3.7" transform="rotate(56 158.5 538.2)" fill="#86808c" stroke="#5a5256" stroke-width="0.6"/>
  <ellipse cx="157.5" cy="537.2" rx="2.2" ry="1.5" fill="#fff" opacity="0.13"/>
  <ellipse cx="163.1" cy="538.0" rx="4.2" ry="3.5" transform="rotate(-39 163.1 538.0)" fill="#8a8a9a" stroke="#5a5256" stroke-width="0.6"/>
  <ellipse cx="162.1" cy="537.0" rx="1.9" ry="1.4" fill="#fff" opacity="0.13"/>
  <ellipse cx="172.9" cy="540.3" rx="4.1" ry="3.5" transform="rotate(5 172.9 540.3)" fill="#a09a9e" stroke="#5a5256" stroke-width="0.6"/>
  <ellipse cx="171.9" cy="539.3" rx="1.8" ry="1.4" fill="#fff" opacity="0.13"/>
  <ellipse cx="178.1" cy="538.0" rx="5.0" ry="3.3" transform="rotate(-60 178.1 538.0)" fill="#86808c" stroke="#5a5256" stroke-width="0.6"/>
  <ellipse cx="177.1" cy="537.0" rx="2.2" ry="1.3" fill="#fff" opacity="0.13"/>
  <ellipse cx="113.8" cy="545.7" rx="4.4" ry="3.4" transform="rotate(-0 113.8 545.7)" fill="#d2bcae" stroke="#5a5256" stroke-width="0.6"/>
  <ellipse cx="112.8" cy="544.7" rx="2.0" ry="1.4" fill="#fff" opacity="0.13"/>
  <ellipse cx="119.7" cy="545.8" rx="4.4" ry="4.0" transform="rotate(-52 119.7 545.8)" fill="#d2bcae" stroke="#5a5256" stroke-width="0.6"/>
  <ellipse cx="118.7" cy="544.8" rx="2.0" ry="1.6" fill="#fff" opacity="0.13"/>
  <ellipse cx="125.8" cy="544.3" rx="4.1" ry="4.0" transform="rotate(6 125.8 544.3)" fill="#c6ae9e" stroke="#5a5256" stroke-width="0.6"/>
  <ellipse cx="124.8" cy="543.3" rx="1.9" ry="1.6" fill="#fff" opacity="0.13"/>
  <ellipse cx="132.8" cy="544.2" rx="4.9" ry="3.3" transform="rotate(-17 132.8 544.2)" fill="#a09a9e" stroke="#5a5256" stroke-width="0.6"/>
  <ellipse cx="131.8" cy="543.2" rx="2.2" ry="1.3" fill="#fff" opacity="0.13"/>
  <ellipse cx="141.1" cy="543.7" rx="4.8" ry="3.2" transform="rotate(7 141.1 543.7)" fill="#9896a2" stroke="#5a5256" stroke-width="0.6"/>
  <ellipse cx="140.1" cy="542.7" rx="2.2" ry="1.3" fill="#fff" opacity="0.13"/>
  <ellipse cx="148.6" cy="546.0" rx="4.1" ry="3.4" transform="rotate(57 148.6 546.0)" fill="#8a8a9a" stroke="#5a5256" stroke-width="0.6"/>
  <ellipse cx="147.6" cy="545.0" rx="1.8" ry="1.3" fill="#fff" opacity="0.13"/>
  <ellipse cx="153.8" cy="544.9" rx="5.0" ry="3.7" transform="rotate(41 153.8 544.9)" fill="#8a8a9a" stroke="#5a5256" stroke-width="0.6"/>
  <ellipse cx="152.8" cy="543.9" rx="2.2" ry="1.5" fill="#fff" opacity="0.13"/>
  <ellipse cx="160.9" cy="543.8" rx="4.4" ry="3.8" transform="rotate(-8 160.9 543.8)" fill="#7c7f94" stroke="#5a5256" stroke-width="0.6"/>
  <ellipse cx="159.9" cy="542.8" rx="2.0" ry="1.5" fill="#fff" opacity="0.13"/>
  <ellipse cx="168.3" cy="546.0" rx="4.6" ry="3.7" transform="rotate(-34 168.3 546.0)" fill="#727690" stroke="#5a5256" stroke-width="0.6"/>
  <ellipse cx="167.3" cy="545.0" rx="2.1" ry="1.5" fill="#fff" opacity="0.13"/>
  <ellipse cx="174.7" cy="545.6" rx="4.9" ry="3.9" transform="rotate(50 174.7 545.6)" fill="#a09a9e" stroke="#5a5256" stroke-width="0.6"/>
  <ellipse cx="173.7" cy="544.6" rx="2.2" ry="1.5" fill="#fff" opacity="0.13"/>
  <ellipse cx="117.3" cy="550.3" rx="4.1" ry="3.5" transform="rotate(-60 117.3 550.3)" fill="#d2bcae" stroke="#5a5256" stroke-width="0.6"/>
  <ellipse cx="116.3" cy="549.3" rx="1.9" ry="1.4" fill="#fff" opacity="0.13"/>
  <ellipse cx="123.0" cy="551.7" rx="4.1" ry="3.5" transform="rotate(48 123.0 551.7)" fill="#c6ae9e" stroke="#5a5256" stroke-width="0.6"/>
  <ellipse cx="122.0" cy="550.7" rx="1.8" ry="1.4" fill="#fff" opacity="0.13"/>
  <ellipse cx="130.9" cy="550.2" rx="5.0" ry="3.7" transform="rotate(-44 130.9 550.2)" fill="#ad978a" stroke="#5a5256" stroke-width="0.6"/>
  <ellipse cx="129.9" cy="549.2" rx="2.2" ry="1.5" fill="#fff" opacity="0.13"/>
  <ellipse cx="135.6" cy="552.1" rx="4.0" ry="3.8" transform="rotate(-50 135.6 552.1)" fill="#8a8a9a" stroke="#5a5256" stroke-width="0.6"/>
  <ellipse cx="134.6" cy="551.1" rx="1.8" ry="1.5" fill="#fff" opacity="0.13"/>
  <ellipse cx="142.2" cy="551.4" rx="4.2" ry="3.6" transform="rotate(57 142.2 551.4)" fill="#b8a090" stroke="#5a5256" stroke-width="0.6"/>
  <ellipse cx="141.2" cy="550.4" rx="1.9" ry="1.4" fill="#fff" opacity="0.13"/>
  <ellipse cx="151.2" cy="549.9" rx="4.1" ry="3.5" transform="rotate(-24 151.2 549.9)" fill="#8a8a9a" stroke="#5a5256" stroke-width="0.6"/>
  <ellipse cx="150.2" cy="548.9" rx="1.8" ry="1.4" fill="#fff" opacity="0.13"/>
  <ellipse cx="159.0" cy="551.1" rx="5.0" ry="3.4" transform="rotate(8 159.0 551.1)" fill="#9a9096" stroke="#5a5256" stroke-width="0.6"/>
  <ellipse cx="158.0" cy="550.1" rx="2.2" ry="1.4" fill="#fff" opacity="0.13"/>
  <ellipse cx="163.6" cy="551.1" rx="4.4" ry="3.4" transform="rotate(20 163.6 551.1)" fill="#727690" stroke="#5a5256" stroke-width="0.6"/>
  <ellipse cx="162.6" cy="550.1" rx="2.0" ry="1.4" fill="#fff" opacity="0.13"/>
  <ellipse cx="169.9" cy="549.7" rx="4.4" ry="3.6" transform="rotate(13 169.9 549.7)" fill="#7c7f94" stroke="#5a5256" stroke-width="0.6"/>
  <ellipse cx="168.9" cy="548.7" rx="2.0" ry="1.4" fill="#fff" opacity="0.13"/>
  <ellipse cx="134.8" cy="556.5" rx="4.6" ry="3.2" transform="rotate(-35 134.8 556.5)" fill="#c6ae9e" stroke="#5a5256" stroke-width="0.6"/>
  <ellipse cx="133.8" cy="555.5" rx="2.1" ry="1.3" fill="#fff" opacity="0.13"/>
  <ellipse cx="140.4" cy="556.0" rx="4.6" ry="3.9" transform="rotate(-43 140.4 556.0)" fill="#a09a9e" stroke="#5a5256" stroke-width="0.6"/>
  <ellipse cx="139.4" cy="555.0" rx="2.0" ry="1.5" fill="#fff" opacity="0.13"/>
  <ellipse cx="146.5" cy="557.0" rx="4.6" ry="3.2" transform="rotate(29 146.5 557.0)" fill="#7c7f94" stroke="#5a5256" stroke-width="0.6"/>
  <ellipse cx="145.5" cy="556.0" rx="2.1" ry="1.3" fill="#fff" opacity="0.13"/>
  <ellipse cx="152.6" cy="558.0" rx="5.0" ry="3.4" transform="rotate(-27 152.6 558.0)" fill="#9896a2" stroke="#5a5256" stroke-width="0.6"/>
  <ellipse cx="151.6" cy="557.0" rx="2.2" ry="1.4" fill="#fff" opacity="0.13"/>
 </g>


 <g clip-path="url(#mc2)">
  <rect x="188" y="474" width="84" height="84" fill="#262626"/>
  <g fill="#4e4e4e"><circle cx="222.3" cy="477.5" r="1.45"/><circle cx="224.1" cy="477.7" r="1.45"/><circle cx="227.0" cy="476.8" r="1.45"/><circle cx="231.1" cy="477.3" r="1.45"/><circle cx="232.8" cy="477.9" r="1.45"/><circle cx="236.0" cy="476.6" r="1.45"/><circle cx="240.0" cy="476.7" r="1.45"/><circle cx="211.1" cy="480.6" r="1.45"/><circle cx="214.2" cy="479.6" r="1.45"/><circle cx="217.8" cy="479.5" r="1.45"/><circle cx="219.1" cy="479.6" r="1.45"/><circle cx="222.9" cy="479.2" r="1.45"/><circle cx="225.4" cy="479.8" r="1.45"/><circle cx="229.1" cy="479.3" r="1.45"/><circle cx="231.8" cy="480.7" r="1.45"/><circle cx="235.9" cy="480.3" r="1.45"/><circle cx="238.3" cy="480.2" r="1.45"/><circle cx="240.4" cy="479.2" r="1.45"/><circle cx="243.1" cy="480.7" r="1.45"/><circle cx="247.4" cy="480.8" r="1.45"/><circle cx="249.1" cy="480.2" r="1.45"/><circle cx="207.4" cy="483.7" r="1.45"/><circle cx="209.9" cy="482.8" r="1.45"/><circle cx="212.9" cy="483.1" r="1.45"/><circle cx="215.4" cy="483.6" r="1.45"/><circle cx="217.8" cy="483.5" r="1.45"/><circle cx="220.7" cy="483.2" r="1.45"/><circle cx="224.5" cy="482.5" r="1.45"/><circle cx="227.9" cy="483.0" r="1.45"/><circle cx="230.7" cy="483.8" r="1.45"/><circle cx="233.1" cy="482.1" r="1.45"/><circle cx="236.1" cy="483.3" r="1.45"/><circle cx="239.0" cy="482.4" r="1.45"/><circle cx="243.2" cy="483.3" r="1.45"/><circle cx="245.4" cy="483.7" r="1.45"/><circle cx="248.2" cy="483.3" r="1.45"/><circle cx="251.0" cy="482.9" r="1.45"/><circle cx="205.7" cy="485.2" r="1.45"/><circle cx="208.4" cy="486.1" r="1.45"/><circle cx="210.7" cy="486.5" r="1.45"/><circle cx="213.1" cy="485.3" r="1.45"/><circle cx="216.9" cy="485.1" r="1.45"/><circle cx="220.6" cy="485.5" r="1.45"/><circle cx="222.4" cy="485.2" r="1.45"/><circle cx="226.2" cy="485.9" r="1.45"/><circle cx="229.2" cy="486.3" r="1.45"/><circle cx="232.6" cy="486.8" r="1.45"/><circle cx="235.3" cy="485.5" r="1.45"/><circle cx="238.0" cy="485.4" r="1.45"/><circle cx="240.1" cy="485.9" r="1.45"/><circle cx="244.4" cy="485.4" r="1.45"/><circle cx="246.6" cy="485.7" r="1.45"/><circle cx="250.4" cy="486.0" r="1.45"/><circle cx="253.2" cy="486.5" r="1.45"/><circle cx="255.8" cy="486.5" r="1.45"/><circle cx="200.8" cy="489.4" r="1.45"/><circle cx="203.0" cy="489.7" r="1.45"/><circle cx="207.4" cy="489.9" r="1.45"/><circle cx="209.6" cy="489.5" r="1.45"/><circle cx="212.2" cy="489.7" r="1.45"/><circle cx="216.1" cy="488.7" r="1.45"/><circle cx="217.7" cy="488.9" r="1.45"/><circle cx="221.6" cy="489.5" r="1.45"/><circle cx="224.5" cy="488.2" r="1.45"/><circle cx="228.1" cy="488.2" r="1.45"/><circle cx="231.0" cy="488.4" r="1.45"/><circle cx="233.2" cy="489.5" r="1.45"/><circle cx="235.9" cy="488.4" r="1.45"/><circle cx="239.5" cy="489.4" r="1.45"/><circle cx="243.1" cy="489.3" r="1.45"/><circle cx="246.3" cy="489.0" r="1.45"/><circle cx="249.3" cy="488.3" r="1.45"/><circle cx="251.0" cy="489.0" r="1.45"/><circle cx="254.1" cy="489.4" r="1.45"/><circle cx="257.7" cy="489.0" r="1.45"/><circle cx="196.8" cy="492.0" r="1.45"/><circle cx="198.8" cy="492.5" r="1.45"/><circle cx="202.1" cy="492.0" r="1.45"/><circle cx="205.3" cy="491.2" r="1.45"/><circle cx="208.1" cy="491.8" r="1.45"/><circle cx="211.8" cy="492.8" r="1.45"/><circle cx="213.6" cy="492.0" r="1.45"/><circle cx="216.3" cy="491.9" r="1.45"/><circle cx="220.6" cy="492.7" r="1.45"/><circle cx="223.0" cy="491.7" r="1.45"/><circle cx="225.4" cy="492.2" r="1.45"/><circle cx="229.8" cy="491.3" r="1.45"/><circle cx="232.5" cy="491.1" r="1.45"/><circle cx="234.4" cy="491.5" r="1.45"/><circle cx="238.3" cy="491.7" r="1.45"/><circle cx="240.7" cy="492.2" r="1.45"/><circle cx="243.3" cy="492.4" r="1.45"/><circle cx="246.3" cy="492.0" r="1.45"/><circle cx="249.6" cy="491.5" r="1.45"/><circle cx="253.1" cy="491.9" r="1.45"/><circle cx="255.8" cy="491.8" r="1.45"/><circle cx="259.1" cy="491.4" r="1.45"/><circle cx="261.5" cy="492.2" r="1.45"/><circle cx="194.2" cy="495.8" r="1.45"/><circle cx="197.0" cy="495.9" r="1.45"/><circle cx="201.2" cy="494.3" r="1.45"/><circle cx="203.0" cy="495.4" r="1.45"/><circle cx="206.1" cy="494.3" r="1.45"/><circle cx="210.1" cy="494.9" r="1.45"/><circle cx="213.0" cy="494.3" r="1.45"/><circle cx="215.3" cy="495.3" r="1.45"/><circle cx="217.6" cy="494.5" r="1.45"/><circle cx="221.8" cy="495.7" r="1.45"/><circle cx="225.3" cy="494.3" r="1.45"/><circle cx="227.5" cy="495.5" r="1.45"/><circle cx="230.5" cy="495.3" r="1.45"/><circle cx="232.9" cy="494.2" r="1.45"/><circle cx="235.8" cy="494.2" r="1.45"/><circle cx="239.6" cy="495.0" r="1.45"/><circle cx="242.6" cy="494.4" r="1.45"/><circle cx="244.9" cy="494.5" r="1.45"/><circle cx="249.1" cy="495.9" r="1.45"/><circle cx="252.3" cy="494.3" r="1.45"/><circle cx="253.7" cy="495.8" r="1.45"/><circle cx="257.4" cy="495.5" r="1.45"/><circle cx="260.2" cy="494.9" r="1.45"/><circle cx="263.5" cy="494.9" r="1.45"/><circle cx="193.0" cy="497.1" r="1.45"/><circle cx="196.7" cy="498.5" r="1.45"/><circle cx="199.4" cy="498.6" r="1.45"/><circle cx="202.2" cy="497.8" r="1.45"/><circle cx="205.2" cy="498.0" r="1.45"/><circle cx="208.9" cy="498.5" r="1.45"/><circle cx="210.6" cy="498.7" r="1.45"/><circle cx="214.4" cy="498.5" r="1.45"/><circle cx="217.6" cy="497.8" r="1.45"/><circle cx="220.7" cy="498.7" r="1.45"/><circle cx="223.4" cy="498.5" r="1.45"/><circle cx="226.5" cy="497.8" r="1.45"/><circle cx="229.4" cy="497.2" r="1.45"/><circle cx="231.7" cy="497.9" r="1.45"/><circle cx="234.1" cy="497.7" r="1.45"/><circle cx="238.2" cy="498.2" r="1.45"/><circle cx="240.5" cy="498.8" r="1.45"/><circle cx="244.3" cy="497.7" r="1.45"/><circle cx="247.3" cy="498.1" r="1.45"/><circle cx="250.1" cy="497.8" r="1.45"/><circle cx="253.9" cy="498.3" r="1.45"/><circle cx="256.4" cy="498.5" r="1.45"/><circle cx="259.9" cy="497.1" r="1.45"/><circle cx="262.2" cy="498.4" r="1.45"/><circle cx="264.6" cy="497.8" r="1.45"/><circle cx="191.6" cy="501.0" r="1.45"/><circle cx="195.3" cy="501.1" r="1.45"/><circle cx="198.4" cy="501.2" r="1.45"/><circle cx="201.1" cy="500.2" r="1.45"/><circle cx="203.7" cy="501.5" r="1.45"/><circle cx="205.7" cy="501.8" r="1.45"/><circle cx="208.9" cy="500.9" r="1.45"/><circle cx="211.9" cy="501.0" r="1.45"/><circle cx="215.7" cy="500.2" r="1.45"/><circle cx="219.3" cy="500.9" r="1.45"/><circle cx="221.5" cy="501.2" r="1.45"/><circle cx="224.3" cy="500.6" r="1.45"/><circle cx="227.8" cy="501.1" r="1.45"/><circle cx="230.1" cy="501.4" r="1.45"/><circle cx="233.1" cy="500.1" r="1.45"/><circle cx="236.0" cy="500.2" r="1.45"/><circle cx="238.9" cy="501.5" r="1.45"/><circle cx="242.3" cy="501.7" r="1.45"/><circle cx="245.9" cy="500.2" r="1.45"/><circle cx="249.4" cy="501.8" r="1.45"/><circle cx="250.7" cy="501.7" r="1.45"/><circle cx="254.4" cy="501.0" r="1.45"/><circle cx="258.4" cy="500.5" r="1.45"/><circle cx="260.5" cy="501.8" r="1.45"/><circle cx="263.9" cy="500.9" r="1.45"/><circle cx="267.4" cy="501.6" r="1.45"/><circle cx="192.9" cy="504.3" r="1.45"/><circle cx="195.9" cy="503.6" r="1.45"/><circle cx="199.1" cy="503.9" r="1.45"/><circle cx="202.5" cy="504.1" r="1.45"/><circle cx="205.9" cy="504.8" r="1.45"/><circle cx="208.4" cy="503.5" r="1.45"/><circle cx="210.3" cy="504.7" r="1.45"/><circle cx="214.5" cy="504.2" r="1.45"/><circle cx="216.7" cy="503.6" r="1.45"/><circle cx="220.3" cy="504.1" r="1.45"/><circle cx="223.2" cy="504.2" r="1.45"/><circle cx="226.5" cy="503.4" r="1.45"/><circle cx="228.5" cy="504.9" r="1.45"/><circle cx="232.7" cy="504.7" r="1.45"/><circle cx="234.2" cy="503.2" r="1.45"/><circle cx="237.6" cy="503.9" r="1.45"/><circle cx="241.2" cy="503.3" r="1.45"/><circle cx="244.1" cy="503.2" r="1.45"/><circle cx="246.3" cy="504.3" r="1.45"/><circle cx="250.1" cy="504.2" r="1.45"/><circle cx="252.8" cy="504.0" r="1.45"/><circle cx="255.5" cy="503.7" r="1.45"/><circle cx="259.4" cy="504.6" r="1.45"/><circle cx="261.2" cy="503.3" r="1.45"/><circle cx="265.6" cy="504.2" r="1.45"/><circle cx="191.8" cy="507.9" r="1.45"/><circle cx="194.2" cy="507.1" r="1.45"/><circle cx="197.9" cy="507.8" r="1.45"/><circle cx="200.4" cy="506.8" r="1.45"/><circle cx="202.8" cy="507.7" r="1.45"/><circle cx="205.7" cy="506.2" r="1.45"/><circle cx="209.6" cy="507.0" r="1.45"/><circle cx="212.8" cy="506.6" r="1.45"/><circle cx="216.0" cy="506.2" r="1.45"/><circle cx="218.0" cy="507.3" r="1.45"/><circle cx="220.7" cy="506.6" r="1.45"/><circle cx="224.9" cy="507.3" r="1.45"/><circle cx="227.1" cy="506.4" r="1.45"/><circle cx="230.2" cy="507.4" r="1.45"/><circle cx="233.3" cy="506.3" r="1.45"/><circle cx="236.9" cy="507.1" r="1.45"/><circle cx="240.3" cy="507.8" r="1.45"/><circle cx="243.2" cy="506.9" r="1.45"/><circle cx="246.0" cy="506.6" r="1.45"/><circle cx="248.2" cy="506.8" r="1.45"/><circle cx="252.3" cy="507.7" r="1.45"/><circle cx="254.0" cy="506.8" r="1.45"/><circle cx="257.3" cy="506.8" r="1.45"/><circle cx="260.3" cy="506.8" r="1.45"/><circle cx="263.0" cy="507.1" r="1.45"/><circle cx="267.0" cy="507.1" r="1.45"/><circle cx="189.1" cy="510.0" r="1.45"/><circle cx="193.1" cy="510.1" r="1.45"/><circle cx="196.8" cy="510.3" r="1.45"/><circle cx="199.5" cy="509.2" r="1.45"/><circle cx="202.1" cy="510.5" r="1.45"/><circle cx="204.3" cy="509.2" r="1.45"/><circle cx="208.4" cy="510.7" r="1.45"/><circle cx="210.3" cy="510.2" r="1.45"/><circle cx="213.4" cy="510.4" r="1.45"/><circle cx="217.3" cy="509.5" r="1.45"/><circle cx="219.5" cy="510.5" r="1.45"/><circle cx="223.0" cy="510.5" r="1.45"/><circle cx="225.8" cy="509.7" r="1.45"/><circle cx="229.8" cy="510.3" r="1.45"/><circle cx="232.0" cy="510.1" r="1.45"/><circle cx="235.4" cy="510.4" r="1.45"/><circle cx="238.7" cy="509.8" r="1.45"/><circle cx="241.6" cy="510.3" r="1.45"/><circle cx="244.6" cy="510.6" r="1.45"/><circle cx="247.6" cy="510.7" r="1.45"/><circle cx="250.8" cy="510.3" r="1.45"/><circle cx="253.0" cy="510.4" r="1.45"/><circle cx="256.5" cy="509.9" r="1.45"/><circle cx="258.9" cy="509.4" r="1.45"/><circle cx="262.4" cy="510.9" r="1.45"/><circle cx="264.8" cy="509.4" r="1.45"/><circle cx="267.5" cy="509.9" r="1.45"/><circle cx="190.8" cy="513.3" r="1.45"/><circle cx="195.0" cy="512.4" r="1.45"/><circle cx="196.7" cy="512.9" r="1.45"/><circle cx="200.7" cy="513.7" r="1.45"/><circle cx="202.7" cy="512.3" r="1.45"/><circle cx="205.9" cy="512.5" r="1.45"/><circle cx="209.0" cy="513.4" r="1.45"/><circle cx="212.7" cy="512.5" r="1.45"/><circle cx="214.9" cy="512.6" r="1.45"/><circle cx="217.9" cy="513.5" r="1.45"/><circle cx="221.2" cy="513.1" r="1.45"/><circle cx="225.1" cy="513.0" r="1.45"/><circle cx="227.1" cy="513.7" r="1.45"/><circle cx="231.2" cy="512.7" r="1.45"/><circle cx="233.6" cy="513.8" r="1.45"/><circle cx="236.5" cy="512.5" r="1.45"/><circle cx="238.7" cy="513.8" r="1.45"/><circle cx="243.0" cy="512.8" r="1.45"/><circle cx="245.5" cy="513.0" r="1.45"/><circle cx="248.1" cy="513.9" r="1.45"/><circle cx="251.8" cy="512.5" r="1.45"/><circle cx="253.6" cy="513.0" r="1.45"/><circle cx="257.3" cy="513.5" r="1.45"/><circle cx="260.9" cy="513.2" r="1.45"/><circle cx="262.9" cy="512.4" r="1.45"/><circle cx="266.2" cy="512.6" r="1.45"/><circle cx="270.2" cy="513.0" r="1.45"/><circle cx="189.4" cy="516.5" r="1.45"/><circle cx="192.1" cy="516.6" r="1.45"/><circle cx="196.6" cy="516.6" r="1.45"/><circle cx="198.2" cy="515.6" r="1.45"/><circle cx="202.4" cy="515.3" r="1.45"/><circle cx="205.0" cy="515.9" r="1.45"/><circle cx="208.8" cy="516.2" r="1.45"/><circle cx="211.6" cy="515.6" r="1.45"/><circle cx="214.5" cy="515.9" r="1.45"/><circle cx="217.8" cy="515.3" r="1.45"/><circle cx="220.6" cy="515.5" r="1.45"/><circle cx="223.1" cy="516.0" r="1.45"/><circle cx="225.4" cy="516.6" r="1.45"/><circle cx="228.7" cy="515.7" r="1.45"/><circle cx="231.2" cy="515.7" r="1.45"/><circle cx="234.9" cy="516.4" r="1.45"/><circle cx="237.7" cy="516.3" r="1.45"/><circle cx="240.3" cy="515.8" r="1.45"/><circle cx="243.9" cy="516.8" r="1.45"/><circle cx="247.6" cy="516.3" r="1.45"/><circle cx="249.1" cy="515.8" r="1.45"/><circle cx="253.4" cy="515.5" r="1.45"/><circle cx="256.1" cy="515.9" r="1.45"/><circle cx="258.1" cy="516.9" r="1.45"/><circle cx="262.5" cy="515.5" r="1.45"/><circle cx="265.2" cy="515.6" r="1.45"/><circle cx="267.8" cy="516.1" r="1.45"/><circle cx="191.1" cy="518.5" r="1.45"/><circle cx="194.9" cy="518.7" r="1.45"/><circle cx="198.3" cy="519.1" r="1.45"/><circle cx="200.9" cy="518.7" r="1.45"/><circle cx="204.1" cy="518.3" r="1.45"/><circle cx="205.9" cy="518.3" r="1.45"/><circle cx="209.8" cy="519.4" r="1.45"/><circle cx="211.9" cy="518.8" r="1.45"/><circle cx="216.1" cy="519.2" r="1.45"/><circle cx="217.8" cy="518.5" r="1.45"/><circle cx="220.9" cy="518.3" r="1.45"/><circle cx="224.3" cy="518.2" r="1.45"/><circle cx="228.3" cy="518.9" r="1.45"/><circle cx="230.5" cy="519.3" r="1.45"/><circle cx="234.0" cy="519.6" r="1.45"/><circle cx="236.3" cy="518.7" r="1.45"/><circle cx="239.3" cy="518.1" r="1.45"/><circle cx="242.3" cy="519.4" r="1.45"/><circle cx="246.4" cy="519.5" r="1.45"/><circle cx="248.8" cy="519.2" r="1.45"/><circle cx="250.6" cy="518.7" r="1.45"/><circle cx="254.2" cy="519.3" r="1.45"/><circle cx="256.8" cy="518.8" r="1.45"/><circle cx="260.5" cy="519.5" r="1.45"/><circle cx="264.1" cy="519.2" r="1.45"/><circle cx="265.9" cy="519.5" r="1.45"/><circle cx="270.2" cy="519.1" r="1.45"/><circle cx="190.9" cy="522.0" r="1.45"/><circle cx="193.4" cy="522.6" r="1.45"/><circle cx="195.5" cy="522.8" r="1.45"/><circle cx="199.2" cy="521.5" r="1.45"/><circle cx="201.2" cy="521.5" r="1.45"/><circle cx="205.1" cy="522.4" r="1.45"/><circle cx="207.7" cy="522.8" r="1.45"/><circle cx="210.8" cy="521.9" r="1.45"/><circle cx="213.3" cy="522.9" r="1.45"/><circle cx="216.3" cy="522.7" r="1.45"/><circle cx="220.1" cy="522.1" r="1.45"/><circle cx="223.1" cy="521.6" r="1.45"/><circle cx="226.7" cy="522.9" r="1.45"/><circle cx="229.6" cy="522.2" r="1.45"/><circle cx="231.3" cy="522.6" r="1.45"/><circle cx="234.6" cy="522.7" r="1.45"/><circle cx="237.5" cy="522.1" r="1.45"/><circle cx="241.6" cy="521.4" r="1.45"/><circle cx="244.1" cy="521.2" r="1.45"/><circle cx="246.2" cy="521.4" r="1.45"/><circle cx="250.9" cy="522.8" r="1.45"/><circle cx="253.3" cy="521.7" r="1.45"/><circle cx="256.3" cy="522.4" r="1.45"/><circle cx="258.8" cy="522.2" r="1.45"/><circle cx="262.5" cy="521.1" r="1.45"/><circle cx="264.5" cy="521.9" r="1.45"/><circle cx="267.4" cy="521.8" r="1.45"/><circle cx="191.6" cy="524.7" r="1.45"/><circle cx="194.8" cy="524.2" r="1.45"/><circle cx="197.8" cy="524.4" r="1.45"/><circle cx="201.3" cy="525.2" r="1.45"/><circle cx="203.4" cy="524.8" r="1.45"/><circle cx="206.7" cy="525.3" r="1.45"/><circle cx="210.0" cy="525.5" r="1.45"/><circle cx="212.5" cy="525.9" r="1.45"/><circle cx="216.1" cy="525.6" r="1.45"/><circle cx="218.3" cy="524.9" r="1.45"/><circle cx="221.6" cy="525.7" r="1.45"/><circle cx="224.5" cy="525.0" r="1.45"/><circle cx="227.4" cy="525.7" r="1.45"/><circle cx="230.2" cy="524.2" r="1.45"/><circle cx="233.9" cy="525.7" r="1.45"/><circle cx="236.9" cy="525.2" r="1.45"/><circle cx="240.0" cy="524.6" r="1.45"/><circle cx="242.7" cy="524.2" r="1.45"/><circle cx="244.8" cy="524.9" r="1.45"/><circle cx="248.5" cy="524.8" r="1.45"/><circle cx="250.7" cy="525.4" r="1.45"/><circle cx="254.5" cy="524.5" r="1.45"/><circle cx="257.2" cy="524.8" r="1.45"/><circle cx="260.0" cy="524.2" r="1.45"/><circle cx="264.2" cy="525.8" r="1.45"/><circle cx="266.8" cy="525.7" r="1.45"/><circle cx="192.3" cy="528.1" r="1.45"/><circle cx="196.8" cy="527.1" r="1.45"/><circle cx="198.5" cy="527.6" r="1.45"/><circle cx="201.7" cy="527.2" r="1.45"/><circle cx="205.7" cy="528.6" r="1.45"/><circle cx="207.8" cy="527.7" r="1.45"/><circle cx="211.2" cy="527.2" r="1.45"/><circle cx="213.2" cy="528.7" r="1.45"/><circle cx="216.7" cy="528.0" r="1.45"/><circle cx="220.8" cy="528.9" r="1.45"/><circle cx="223.0" cy="527.5" r="1.45"/><circle cx="225.6" cy="528.8" r="1.45"/><circle cx="229.7" cy="527.5" r="1.45"/><circle cx="232.6" cy="527.7" r="1.45"/><circle cx="235.0" cy="527.4" r="1.45"/><circle cx="238.7" cy="528.9" r="1.45"/><circle cx="240.5" cy="528.2" r="1.45"/><circle cx="243.4" cy="528.7" r="1.45"/><circle cx="246.2" cy="527.3" r="1.45"/><circle cx="250.4" cy="527.7" r="1.45"/><circle cx="253.7" cy="528.7" r="1.45"/><circle cx="256.4" cy="527.3" r="1.45"/><circle cx="259.4" cy="528.8" r="1.45"/><circle cx="261.9" cy="527.2" r="1.45"/><circle cx="264.5" cy="527.7" r="1.45"/><circle cx="268.4" cy="527.5" r="1.45"/><circle cx="195.2" cy="531.2" r="1.45"/><circle cx="197.0" cy="530.6" r="1.45"/><circle cx="201.3" cy="531.3" r="1.45"/><circle cx="203.1" cy="531.3" r="1.45"/><circle cx="205.8" cy="531.9" r="1.45"/><circle cx="209.4" cy="531.1" r="1.45"/><circle cx="212.6" cy="530.2" r="1.45"/><circle cx="215.7" cy="530.6" r="1.45"/><circle cx="218.1" cy="531.5" r="1.45"/><circle cx="220.8" cy="530.6" r="1.45"/><circle cx="225.0" cy="530.5" r="1.45"/><circle cx="227.1" cy="531.1" r="1.45"/><circle cx="229.9" cy="531.7" r="1.45"/><circle cx="234.4" cy="530.2" r="1.45"/><circle cx="236.4" cy="531.5" r="1.45"/><circle cx="239.3" cy="531.8" r="1.45"/><circle cx="242.5" cy="530.4" r="1.45"/><circle cx="245.6" cy="531.3" r="1.45"/><circle cx="248.2" cy="531.3" r="1.45"/><circle cx="252.0" cy="531.0" r="1.45"/><circle cx="254.5" cy="531.6" r="1.45"/><circle cx="257.8" cy="531.0" r="1.45"/><circle cx="261.3" cy="530.4" r="1.45"/><circle cx="264.0" cy="530.4" r="1.45"/><circle cx="266.7" cy="530.5" r="1.45"/><circle cx="193.0" cy="533.2" r="1.45"/><circle cx="196.2" cy="534.4" r="1.45"/><circle cx="199.1" cy="534.7" r="1.45"/><circle cx="201.4" cy="533.4" r="1.45"/><circle cx="204.1" cy="534.0" r="1.45"/><circle cx="207.9" cy="533.9" r="1.45"/><circle cx="210.6" cy="534.5" r="1.45"/><circle cx="213.2" cy="534.7" r="1.45"/><circle cx="217.1" cy="534.1" r="1.45"/><circle cx="220.5" cy="533.5" r="1.45"/><circle cx="222.4" cy="533.7" r="1.45"/><circle cx="225.2" cy="533.7" r="1.45"/><circle cx="229.2" cy="534.0" r="1.45"/><circle cx="231.6" cy="534.2" r="1.45"/><circle cx="234.3" cy="534.6" r="1.45"/><circle cx="237.4" cy="533.6" r="1.45"/><circle cx="240.4" cy="534.3" r="1.45"/><circle cx="244.6" cy="534.5" r="1.45"/><circle cx="246.2" cy="533.8" r="1.45"/><circle cx="249.8" cy="533.5" r="1.45"/><circle cx="253.8" cy="533.2" r="1.45"/><circle cx="256.0" cy="534.5" r="1.45"/><circle cx="259.9" cy="533.4" r="1.45"/><circle cx="261.9" cy="534.4" r="1.45"/><circle cx="264.2" cy="533.5" r="1.45"/><circle cx="195.0" cy="537.4" r="1.45"/><circle cx="197.0" cy="536.6" r="1.45"/><circle cx="200.6" cy="536.5" r="1.45"/><circle cx="203.4" cy="537.8" r="1.45"/><circle cx="206.3" cy="536.7" r="1.45"/><circle cx="210.4" cy="537.2" r="1.45"/><circle cx="211.7" cy="536.8" r="1.45"/><circle cx="215.8" cy="536.2" r="1.45"/><circle cx="218.2" cy="537.4" r="1.45"/><circle cx="222.2" cy="537.2" r="1.45"/><circle cx="225.2" cy="536.9" r="1.45"/><circle cx="227.3" cy="537.6" r="1.45"/><circle cx="230.3" cy="537.5" r="1.45"/><circle cx="233.0" cy="536.7" r="1.45"/><circle cx="235.9" cy="537.1" r="1.45"/><circle cx="238.9" cy="536.5" r="1.45"/><circle cx="242.0" cy="536.9" r="1.45"/><circle cx="245.2" cy="536.9" r="1.45"/><circle cx="249.4" cy="537.3" r="1.45"/><circle cx="252.2" cy="536.5" r="1.45"/><circle cx="254.3" cy="536.2" r="1.45"/><circle cx="257.8" cy="536.8" r="1.45"/><circle cx="260.1" cy="536.1" r="1.45"/><circle cx="262.9" cy="536.6" r="1.45"/><circle cx="198.2" cy="540.7" r="1.45"/><circle cx="201.7" cy="540.5" r="1.45"/><circle cx="205.0" cy="539.2" r="1.45"/><circle cx="207.8" cy="539.5" r="1.45"/><circle cx="210.2" cy="539.4" r="1.45"/><circle cx="214.2" cy="539.2" r="1.45"/><circle cx="216.7" cy="539.9" r="1.45"/><circle cx="220.1" cy="539.3" r="1.45"/><circle cx="223.4" cy="539.6" r="1.45"/><circle cx="226.4" cy="540.3" r="1.45"/><circle cx="228.4" cy="539.5" r="1.45"/><circle cx="231.6" cy="540.4" r="1.45"/><circle cx="234.8" cy="539.8" r="1.45"/><circle cx="238.7" cy="539.5" r="1.45"/><circle cx="240.6" cy="539.7" r="1.45"/><circle cx="243.5" cy="539.2" r="1.45"/><circle cx="246.1" cy="540.2" r="1.45"/><circle cx="250.1" cy="540.6" r="1.45"/><circle cx="253.9" cy="539.6" r="1.45"/><circle cx="256.3" cy="540.8" r="1.45"/><circle cx="258.5" cy="540.3" r="1.45"/><circle cx="199.9" cy="543.3" r="1.45"/><circle cx="203.0" cy="542.3" r="1.45"/><circle cx="206.2" cy="542.9" r="1.45"/><circle cx="208.9" cy="543.1" r="1.45"/><circle cx="212.9" cy="543.1" r="1.45"/><circle cx="215.9" cy="542.1" r="1.45"/><circle cx="218.3" cy="542.8" r="1.45"/><circle cx="220.7" cy="542.8" r="1.45"/><circle cx="223.7" cy="543.0" r="1.45"/><circle cx="227.7" cy="542.9" r="1.45"/><circle cx="230.2" cy="542.6" r="1.45"/><circle cx="232.6" cy="542.7" r="1.45"/><circle cx="237.2" cy="543.1" r="1.45"/><circle cx="239.1" cy="543.3" r="1.45"/><circle cx="241.9" cy="542.9" r="1.45"/><circle cx="245.7" cy="543.8" r="1.45"/><circle cx="248.3" cy="543.1" r="1.45"/><circle cx="252.3" cy="543.5" r="1.45"/><circle cx="254.7" cy="543.2" r="1.45"/><circle cx="257.3" cy="542.8" r="1.45"/><circle cx="202.0" cy="546.3" r="1.45"/><circle cx="205.1" cy="546.2" r="1.45"/><circle cx="208.1" cy="546.6" r="1.45"/><circle cx="211.8" cy="545.7" r="1.45"/><circle cx="213.7" cy="546.7" r="1.45"/><circle cx="216.7" cy="546.4" r="1.45"/><circle cx="220.4" cy="546.3" r="1.45"/><circle cx="223.8" cy="546.6" r="1.45"/><circle cx="225.4" cy="546.2" r="1.45"/><circle cx="229.0" cy="546.1" r="1.45"/><circle cx="231.8" cy="545.6" r="1.45"/><circle cx="235.4" cy="546.1" r="1.45"/><circle cx="237.5" cy="545.5" r="1.45"/><circle cx="240.7" cy="545.4" r="1.45"/><circle cx="244.0" cy="545.3" r="1.45"/><circle cx="246.2" cy="545.2" r="1.45"/><circle cx="249.3" cy="546.4" r="1.45"/><circle cx="252.3" cy="545.9" r="1.45"/><circle cx="256.5" cy="546.0" r="1.45"/><circle cx="205.8" cy="548.8" r="1.45"/><circle cx="209.8" cy="548.5" r="1.45"/><circle cx="211.9" cy="548.1" r="1.45"/><circle cx="215.7" cy="549.8" r="1.45"/><circle cx="219.3" cy="548.3" r="1.45"/><circle cx="221.8" cy="548.9" r="1.45"/><circle cx="224.7" cy="548.8" r="1.45"/><circle cx="228.3" cy="549.9" r="1.45"/><circle cx="229.7" cy="549.4" r="1.45"/><circle cx="232.8" cy="548.2" r="1.45"/><circle cx="236.1" cy="549.4" r="1.45"/><circle cx="240.4" cy="548.3" r="1.45"/><circle cx="242.2" cy="548.1" r="1.45"/><circle cx="245.6" cy="549.0" r="1.45"/><circle cx="248.3" cy="548.7" r="1.45"/><circle cx="252.0" cy="549.6" r="1.45"/><circle cx="210.2" cy="551.4" r="1.45"/><circle cx="214.0" cy="552.9" r="1.45"/><circle cx="216.5" cy="552.7" r="1.45"/><circle cx="220.0" cy="551.8" r="1.45"/><circle cx="223.6" cy="551.8" r="1.45"/><circle cx="225.2" cy="552.1" r="1.45"/><circle cx="229.3" cy="552.2" r="1.45"/><circle cx="231.6" cy="552.8" r="1.45"/><circle cx="235.7" cy="552.9" r="1.45"/><circle cx="237.9" cy="552.6" r="1.45"/><circle cx="241.4" cy="551.4" r="1.45"/><circle cx="243.1" cy="551.4" r="1.45"/><circle cx="246.3" cy="551.2" r="1.45"/><circle cx="216.2" cy="554.7" r="1.45"/><circle cx="217.8" cy="554.7" r="1.45"/><circle cx="221.9" cy="554.5" r="1.45"/><circle cx="224.9" cy="555.1" r="1.45"/><circle cx="227.8" cy="554.4" r="1.45"/><circle cx="229.8" cy="554.4" r="1.45"/><circle cx="233.2" cy="554.9" r="1.45"/><circle cx="235.6" cy="555.0" r="1.45"/><circle cx="239.3" cy="554.7" r="1.45"/></g>
  <g fill="#7a7a7a"><circle cx="221.9" cy="477.0" r="0.6"/><circle cx="223.7" cy="477.2" r="0.6"/><circle cx="226.6" cy="476.3" r="0.6"/><circle cx="230.7" cy="476.8" r="0.6"/><circle cx="232.4" cy="477.4" r="0.6"/><circle cx="235.6" cy="476.1" r="0.6"/><circle cx="210.7" cy="480.1" r="0.6"/><circle cx="213.8" cy="479.1" r="0.6"/><circle cx="218.7" cy="479.1" r="0.6"/><circle cx="222.5" cy="478.7" r="0.6"/><circle cx="225.0" cy="479.3" r="0.6"/><circle cx="228.7" cy="478.8" r="0.6"/><circle cx="231.4" cy="480.2" r="0.6"/><circle cx="235.5" cy="479.8" r="0.6"/><circle cx="242.7" cy="480.2" r="0.6"/><circle cx="247.0" cy="480.3" r="0.6"/><circle cx="248.7" cy="479.7" r="0.6"/><circle cx="209.5" cy="482.3" r="0.6"/><circle cx="215.0" cy="483.1" r="0.6"/><circle cx="220.3" cy="482.7" r="0.6"/><circle cx="224.1" cy="482.0" r="0.6"/><circle cx="230.3" cy="483.3" r="0.6"/><circle cx="232.7" cy="481.6" r="0.6"/><circle cx="235.7" cy="482.8" r="0.6"/><circle cx="238.6" cy="481.9" r="0.6"/><circle cx="242.8" cy="482.8" r="0.6"/><circle cx="245.0" cy="483.2" r="0.6"/><circle cx="247.8" cy="482.8" r="0.6"/><circle cx="250.6" cy="482.4" r="0.6"/><circle cx="205.3" cy="484.7" r="0.6"/><circle cx="208.0" cy="485.6" r="0.6"/><circle cx="210.3" cy="486.0" r="0.6"/><circle cx="212.7" cy="484.8" r="0.6"/><circle cx="216.5" cy="484.6" r="0.6"/><circle cx="220.2" cy="485.0" r="0.6"/><circle cx="222.0" cy="484.7" r="0.6"/><circle cx="225.8" cy="485.4" r="0.6"/><circle cx="228.8" cy="485.8" r="0.6"/><circle cx="234.9" cy="485.0" r="0.6"/><circle cx="237.6" cy="484.9" r="0.6"/><circle cx="239.7" cy="485.4" r="0.6"/><circle cx="246.2" cy="485.2" r="0.6"/><circle cx="250.0" cy="485.5" r="0.6"/><circle cx="252.8" cy="486.0" r="0.6"/><circle cx="255.4" cy="486.0" r="0.6"/><circle cx="200.4" cy="488.9" r="0.6"/><circle cx="202.6" cy="489.2" r="0.6"/><circle cx="207.0" cy="489.4" r="0.6"/><circle cx="209.2" cy="489.0" r="0.6"/><circle cx="215.7" cy="488.2" r="0.6"/><circle cx="217.3" cy="488.4" r="0.6"/><circle cx="221.2" cy="489.0" r="0.6"/><circle cx="227.7" cy="487.7" r="0.6"/><circle cx="230.6" cy="487.9" r="0.6"/><circle cx="232.8" cy="489.0" r="0.6"/><circle cx="235.5" cy="487.9" r="0.6"/><circle cx="239.1" cy="488.9" r="0.6"/><circle cx="245.9" cy="488.5" r="0.6"/><circle cx="250.6" cy="488.5" r="0.6"/><circle cx="253.7" cy="488.9" r="0.6"/><circle cx="196.4" cy="491.5" r="0.6"/><circle cx="198.4" cy="492.0" r="0.6"/><circle cx="201.7" cy="491.5" r="0.6"/><circle cx="204.9" cy="490.7" r="0.6"/><circle cx="207.7" cy="491.3" r="0.6"/><circle cx="211.4" cy="492.3" r="0.6"/><circle cx="213.2" cy="491.5" r="0.6"/><circle cx="215.9" cy="491.4" r="0.6"/><circle cx="222.6" cy="491.2" r="0.6"/><circle cx="225.0" cy="491.7" r="0.6"/><circle cx="229.4" cy="490.8" r="0.6"/><circle cx="232.1" cy="490.6" r="0.6"/><circle cx="234.0" cy="491.0" r="0.6"/><circle cx="237.9" cy="491.2" r="0.6"/><circle cx="242.9" cy="491.9" r="0.6"/><circle cx="245.9" cy="491.5" r="0.6"/><circle cx="249.2" cy="491.0" r="0.6"/><circle cx="258.7" cy="490.9" r="0.6"/><circle cx="261.1" cy="491.7" r="0.6"/><circle cx="193.8" cy="495.3" r="0.6"/><circle cx="200.8" cy="493.8" r="0.6"/><circle cx="202.6" cy="494.9" r="0.6"/><circle cx="205.7" cy="493.8" r="0.6"/><circle cx="209.7" cy="494.4" r="0.6"/><circle cx="212.6" cy="493.8" r="0.6"/><circle cx="214.9" cy="494.8" r="0.6"/><circle cx="224.9" cy="493.8" r="0.6"/><circle cx="227.1" cy="495.0" r="0.6"/><circle cx="230.1" cy="494.8" r="0.6"/><circle cx="232.5" cy="493.7" r="0.6"/><circle cx="235.4" cy="493.7" r="0.6"/><circle cx="239.2" cy="494.5" r="0.6"/><circle cx="242.2" cy="493.9" r="0.6"/><circle cx="244.5" cy="494.0" r="0.6"/><circle cx="257.0" cy="495.0" r="0.6"/><circle cx="263.1" cy="494.4" r="0.6"/><circle cx="192.6" cy="496.6" r="0.6"/><circle cx="199.0" cy="498.1" r="0.6"/><circle cx="201.8" cy="497.3" r="0.6"/><circle cx="204.8" cy="497.5" r="0.6"/><circle cx="208.5" cy="498.0" r="0.6"/><circle cx="210.2" cy="498.2" r="0.6"/><circle cx="217.2" cy="497.3" r="0.6"/><circle cx="220.3" cy="498.2" r="0.6"/><circle cx="223.0" cy="498.0" r="0.6"/><circle cx="226.1" cy="497.3" r="0.6"/><circle cx="229.0" cy="496.7" r="0.6"/><circle cx="231.3" cy="497.4" r="0.6"/><circle cx="233.7" cy="497.2" r="0.6"/><circle cx="237.8" cy="497.7" r="0.6"/><circle cx="240.1" cy="498.3" r="0.6"/><circle cx="243.9" cy="497.2" r="0.6"/><circle cx="246.9" cy="497.6" r="0.6"/><circle cx="253.5" cy="497.8" r="0.6"/><circle cx="256.0" cy="498.0" r="0.6"/><circle cx="259.5" cy="496.6" r="0.6"/><circle cx="261.8" cy="497.9" r="0.6"/><circle cx="264.2" cy="497.3" r="0.6"/><circle cx="200.7" cy="499.7" r="0.6"/><circle cx="203.3" cy="501.0" r="0.6"/><circle cx="205.3" cy="501.3" r="0.6"/><circle cx="208.5" cy="500.4" r="0.6"/><circle cx="211.5" cy="500.5" r="0.6"/><circle cx="215.3" cy="499.7" r="0.6"/><circle cx="218.9" cy="500.4" r="0.6"/><circle cx="221.1" cy="500.7" r="0.6"/><circle cx="223.9" cy="500.1" r="0.6"/><circle cx="227.4" cy="500.6" r="0.6"/><circle cx="229.7" cy="500.9" r="0.6"/><circle cx="232.7" cy="499.6" r="0.6"/><circle cx="235.6" cy="499.7" r="0.6"/><circle cx="238.5" cy="501.0" r="0.6"/><circle cx="241.9" cy="501.2" r="0.6"/><circle cx="245.5" cy="499.7" r="0.6"/><circle cx="249.0" cy="501.3" r="0.6"/><circle cx="250.3" cy="501.2" r="0.6"/><circle cx="254.0" cy="500.5" r="0.6"/><circle cx="258.0" cy="500.0" r="0.6"/><circle cx="260.1" cy="501.3" r="0.6"/><circle cx="263.5" cy="500.4" r="0.6"/><circle cx="192.5" cy="503.8" r="0.6"/><circle cx="198.7" cy="503.4" r="0.6"/><circle cx="205.5" cy="504.3" r="0.6"/><circle cx="208.0" cy="503.0" r="0.6"/><circle cx="209.9" cy="504.2" r="0.6"/><circle cx="219.9" cy="503.6" r="0.6"/><circle cx="222.8" cy="503.7" r="0.6"/><circle cx="226.1" cy="502.9" r="0.6"/><circle cx="232.3" cy="504.2" r="0.6"/><circle cx="233.8" cy="502.7" r="0.6"/><circle cx="237.2" cy="503.4" r="0.6"/><circle cx="240.8" cy="502.8" r="0.6"/><circle cx="243.7" cy="502.7" r="0.6"/><circle cx="245.9" cy="503.8" r="0.6"/><circle cx="249.7" cy="503.7" r="0.6"/><circle cx="255.1" cy="503.2" r="0.6"/><circle cx="260.8" cy="502.8" r="0.6"/><circle cx="265.2" cy="503.7" r="0.6"/><circle cx="191.4" cy="507.4" r="0.6"/><circle cx="193.8" cy="506.6" r="0.6"/><circle cx="197.5" cy="507.3" r="0.6"/><circle cx="202.4" cy="507.2" r="0.6"/><circle cx="205.3" cy="505.7" r="0.6"/><circle cx="209.2" cy="506.5" r="0.6"/><circle cx="217.6" cy="506.8" r="0.6"/><circle cx="220.3" cy="506.1" r="0.6"/><circle cx="226.7" cy="505.9" r="0.6"/><circle cx="229.8" cy="506.9" r="0.6"/><circle cx="232.9" cy="505.8" r="0.6"/><circle cx="236.5" cy="506.6" r="0.6"/><circle cx="239.9" cy="507.3" r="0.6"/><circle cx="242.8" cy="506.4" r="0.6"/><circle cx="245.6" cy="506.1" r="0.6"/><circle cx="247.8" cy="506.3" r="0.6"/><circle cx="251.9" cy="507.2" r="0.6"/><circle cx="253.6" cy="506.3" r="0.6"/><circle cx="256.9" cy="506.3" r="0.6"/><circle cx="262.6" cy="506.6" r="0.6"/><circle cx="266.6" cy="506.6" r="0.6"/><circle cx="188.7" cy="509.5" r="0.6"/><circle cx="192.7" cy="509.6" r="0.6"/><circle cx="196.4" cy="509.8" r="0.6"/><circle cx="199.1" cy="508.7" r="0.6"/><circle cx="201.7" cy="510.0" r="0.6"/><circle cx="203.9" cy="508.7" r="0.6"/><circle cx="208.0" cy="510.2" r="0.6"/><circle cx="209.9" cy="509.7" r="0.6"/><circle cx="213.0" cy="509.9" r="0.6"/><circle cx="216.9" cy="509.0" r="0.6"/><circle cx="219.1" cy="510.0" r="0.6"/><circle cx="222.6" cy="510.0" r="0.6"/><circle cx="229.4" cy="509.8" r="0.6"/><circle cx="231.6" cy="509.6" r="0.6"/><circle cx="238.3" cy="509.3" r="0.6"/><circle cx="241.2" cy="509.8" r="0.6"/><circle cx="244.2" cy="510.1" r="0.6"/><circle cx="247.2" cy="510.2" r="0.6"/><circle cx="250.4" cy="509.8" r="0.6"/><circle cx="252.6" cy="509.9" r="0.6"/><circle cx="256.1" cy="509.4" r="0.6"/><circle cx="258.5" cy="508.9" r="0.6"/><circle cx="262.0" cy="510.4" r="0.6"/><circle cx="264.4" cy="508.9" r="0.6"/><circle cx="267.1" cy="509.4" r="0.6"/><circle cx="190.4" cy="512.8" r="0.6"/><circle cx="194.6" cy="511.9" r="0.6"/><circle cx="196.3" cy="512.4" r="0.6"/><circle cx="200.3" cy="513.2" r="0.6"/><circle cx="202.3" cy="511.8" r="0.6"/><circle cx="208.6" cy="512.9" r="0.6"/><circle cx="212.3" cy="512.0" r="0.6"/><circle cx="214.5" cy="512.1" r="0.6"/><circle cx="217.5" cy="513.0" r="0.6"/><circle cx="226.7" cy="513.2" r="0.6"/><circle cx="230.8" cy="512.2" r="0.6"/><circle cx="236.1" cy="512.0" r="0.6"/><circle cx="238.3" cy="513.3" r="0.6"/><circle cx="242.6" cy="512.3" r="0.6"/><circle cx="245.1" cy="512.5" r="0.6"/><circle cx="247.7" cy="513.4" r="0.6"/><circle cx="251.4" cy="512.0" r="0.6"/><circle cx="253.2" cy="512.5" r="0.6"/><circle cx="260.5" cy="512.7" r="0.6"/><circle cx="262.5" cy="511.9" r="0.6"/><circle cx="269.8" cy="512.5" r="0.6"/><circle cx="189.0" cy="516.0" r="0.6"/><circle cx="191.7" cy="516.1" r="0.6"/><circle cx="196.2" cy="516.1" r="0.6"/><circle cx="197.8" cy="515.1" r="0.6"/><circle cx="202.0" cy="514.8" r="0.6"/><circle cx="211.2" cy="515.1" r="0.6"/><circle cx="214.1" cy="515.4" r="0.6"/><circle cx="217.4" cy="514.8" r="0.6"/><circle cx="220.2" cy="515.0" r="0.6"/><circle cx="222.7" cy="515.5" r="0.6"/><circle cx="225.0" cy="516.1" r="0.6"/><circle cx="228.3" cy="515.2" r="0.6"/><circle cx="230.8" cy="515.2" r="0.6"/><circle cx="234.5" cy="515.9" r="0.6"/><circle cx="237.3" cy="515.8" r="0.6"/><circle cx="239.9" cy="515.3" r="0.6"/><circle cx="243.5" cy="516.3" r="0.6"/><circle cx="248.7" cy="515.3" r="0.6"/><circle cx="253.0" cy="515.0" r="0.6"/><circle cx="255.7" cy="515.4" r="0.6"/><circle cx="257.7" cy="516.4" r="0.6"/><circle cx="262.1" cy="515.0" r="0.6"/><circle cx="267.4" cy="515.6" r="0.6"/><circle cx="194.5" cy="518.2" r="0.6"/><circle cx="197.9" cy="518.6" r="0.6"/><circle cx="200.5" cy="518.2" r="0.6"/><circle cx="205.5" cy="517.8" r="0.6"/><circle cx="211.5" cy="518.3" r="0.6"/><circle cx="215.7" cy="518.7" r="0.6"/><circle cx="217.4" cy="518.0" r="0.6"/><circle cx="220.5" cy="517.8" r="0.6"/><circle cx="223.9" cy="517.7" r="0.6"/><circle cx="230.1" cy="518.8" r="0.6"/><circle cx="233.6" cy="519.1" r="0.6"/><circle cx="235.9" cy="518.2" r="0.6"/><circle cx="238.9" cy="517.6" r="0.6"/><circle cx="241.9" cy="518.9" r="0.6"/><circle cx="246.0" cy="519.0" r="0.6"/><circle cx="248.4" cy="518.7" r="0.6"/><circle cx="250.2" cy="518.2" r="0.6"/><circle cx="253.8" cy="518.8" r="0.6"/><circle cx="256.4" cy="518.3" r="0.6"/><circle cx="260.1" cy="519.0" r="0.6"/><circle cx="263.7" cy="518.7" r="0.6"/><circle cx="265.5" cy="519.0" r="0.6"/><circle cx="269.8" cy="518.6" r="0.6"/><circle cx="190.5" cy="521.5" r="0.6"/><circle cx="193.0" cy="522.1" r="0.6"/><circle cx="198.8" cy="521.0" r="0.6"/><circle cx="200.8" cy="521.0" r="0.6"/><circle cx="204.7" cy="521.9" r="0.6"/><circle cx="210.4" cy="521.4" r="0.6"/><circle cx="212.9" cy="522.4" r="0.6"/><circle cx="215.9" cy="522.2" r="0.6"/><circle cx="219.7" cy="521.6" r="0.6"/><circle cx="222.7" cy="521.1" r="0.6"/><circle cx="226.3" cy="522.4" r="0.6"/><circle cx="229.2" cy="521.7" r="0.6"/><circle cx="230.9" cy="522.1" r="0.6"/><circle cx="237.1" cy="521.6" r="0.6"/><circle cx="241.2" cy="520.9" r="0.6"/><circle cx="243.7" cy="520.7" r="0.6"/><circle cx="245.8" cy="520.9" r="0.6"/><circle cx="250.5" cy="522.3" r="0.6"/><circle cx="258.4" cy="521.7" r="0.6"/><circle cx="262.1" cy="520.6" r="0.6"/><circle cx="264.1" cy="521.4" r="0.6"/><circle cx="267.0" cy="521.3" r="0.6"/><circle cx="191.2" cy="524.2" r="0.6"/><circle cx="194.4" cy="523.7" r="0.6"/><circle cx="200.9" cy="524.7" r="0.6"/><circle cx="203.0" cy="524.3" r="0.6"/><circle cx="206.3" cy="524.8" r="0.6"/><circle cx="209.6" cy="525.0" r="0.6"/><circle cx="212.1" cy="525.4" r="0.6"/><circle cx="215.7" cy="525.1" r="0.6"/><circle cx="221.2" cy="525.2" r="0.6"/><circle cx="227.0" cy="525.2" r="0.6"/><circle cx="229.8" cy="523.7" r="0.6"/><circle cx="233.5" cy="525.2" r="0.6"/><circle cx="236.5" cy="524.7" r="0.6"/><circle cx="239.6" cy="524.1" r="0.6"/><circle cx="242.3" cy="523.7" r="0.6"/><circle cx="244.4" cy="524.4" r="0.6"/><circle cx="248.1" cy="524.3" r="0.6"/><circle cx="250.3" cy="524.9" r="0.6"/><circle cx="259.6" cy="523.7" r="0.6"/><circle cx="263.8" cy="525.3" r="0.6"/><circle cx="191.9" cy="527.6" r="0.6"/><circle cx="196.4" cy="526.6" r="0.6"/><circle cx="201.3" cy="526.7" r="0.6"/><circle cx="205.3" cy="528.1" r="0.6"/><circle cx="207.4" cy="527.2" r="0.6"/><circle cx="210.8" cy="526.7" r="0.6"/><circle cx="212.8" cy="528.2" r="0.6"/><circle cx="216.3" cy="527.5" r="0.6"/><circle cx="220.4" cy="528.4" r="0.6"/><circle cx="222.6" cy="527.0" r="0.6"/><circle cx="225.2" cy="528.3" r="0.6"/><circle cx="229.3" cy="527.0" r="0.6"/><circle cx="232.2" cy="527.2" r="0.6"/><circle cx="234.6" cy="526.9" r="0.6"/><circle cx="238.3" cy="528.4" r="0.6"/><circle cx="240.1" cy="527.7" r="0.6"/><circle cx="245.8" cy="526.8" r="0.6"/><circle cx="256.0" cy="526.8" r="0.6"/><circle cx="259.0" cy="528.3" r="0.6"/><circle cx="261.5" cy="526.7" r="0.6"/><circle cx="264.1" cy="527.2" r="0.6"/><circle cx="268.0" cy="527.0" r="0.6"/><circle cx="196.6" cy="530.1" r="0.6"/><circle cx="200.9" cy="530.8" r="0.6"/><circle cx="202.7" cy="530.8" r="0.6"/><circle cx="209.0" cy="530.6" r="0.6"/><circle cx="212.2" cy="529.7" r="0.6"/><circle cx="215.3" cy="530.1" r="0.6"/><circle cx="217.7" cy="531.0" r="0.6"/><circle cx="220.4" cy="530.1" r="0.6"/><circle cx="224.6" cy="530.0" r="0.6"/><circle cx="229.5" cy="531.2" r="0.6"/><circle cx="234.0" cy="529.7" r="0.6"/><circle cx="236.0" cy="531.0" r="0.6"/><circle cx="238.9" cy="531.3" r="0.6"/><circle cx="245.2" cy="530.8" r="0.6"/><circle cx="251.6" cy="530.5" r="0.6"/><circle cx="254.1" cy="531.1" r="0.6"/><circle cx="260.9" cy="529.9" r="0.6"/><circle cx="263.6" cy="529.9" r="0.6"/><circle cx="266.3" cy="530.0" r="0.6"/><circle cx="195.8" cy="533.9" r="0.6"/><circle cx="201.0" cy="532.9" r="0.6"/><circle cx="203.7" cy="533.5" r="0.6"/><circle cx="207.5" cy="533.4" r="0.6"/><circle cx="210.2" cy="534.0" r="0.6"/><circle cx="212.8" cy="534.2" r="0.6"/><circle cx="220.1" cy="533.0" r="0.6"/><circle cx="224.8" cy="533.2" r="0.6"/><circle cx="228.8" cy="533.5" r="0.6"/><circle cx="231.2" cy="533.7" r="0.6"/><circle cx="233.9" cy="534.1" r="0.6"/><circle cx="237.0" cy="533.1" r="0.6"/><circle cx="240.0" cy="533.8" r="0.6"/><circle cx="244.2" cy="534.0" r="0.6"/><circle cx="245.8" cy="533.3" r="0.6"/><circle cx="249.4" cy="533.0" r="0.6"/><circle cx="253.4" cy="532.7" r="0.6"/><circle cx="255.6" cy="534.0" r="0.6"/><circle cx="259.5" cy="532.9" r="0.6"/><circle cx="261.5" cy="533.9" r="0.6"/><circle cx="263.8" cy="533.0" r="0.6"/><circle cx="194.6" cy="536.9" r="0.6"/><circle cx="200.2" cy="536.0" r="0.6"/><circle cx="203.0" cy="537.3" r="0.6"/><circle cx="205.9" cy="536.2" r="0.6"/><circle cx="210.0" cy="536.7" r="0.6"/><circle cx="211.3" cy="536.3" r="0.6"/><circle cx="232.6" cy="536.2" r="0.6"/><circle cx="235.5" cy="536.6" r="0.6"/><circle cx="238.5" cy="536.0" r="0.6"/><circle cx="241.6" cy="536.4" r="0.6"/><circle cx="244.8" cy="536.4" r="0.6"/><circle cx="249.0" cy="536.8" r="0.6"/><circle cx="253.9" cy="535.7" r="0.6"/><circle cx="257.4" cy="536.3" r="0.6"/><circle cx="262.5" cy="536.1" r="0.6"/><circle cx="197.8" cy="540.2" r="0.6"/><circle cx="207.4" cy="539.0" r="0.6"/><circle cx="209.8" cy="538.9" r="0.6"/><circle cx="216.3" cy="539.4" r="0.6"/><circle cx="219.7" cy="538.8" r="0.6"/><circle cx="223.0" cy="539.1" r="0.6"/><circle cx="226.0" cy="539.8" r="0.6"/><circle cx="231.2" cy="539.9" r="0.6"/><circle cx="234.4" cy="539.3" r="0.6"/><circle cx="238.3" cy="539.0" r="0.6"/><circle cx="245.7" cy="539.7" r="0.6"/><circle cx="249.7" cy="540.1" r="0.6"/><circle cx="253.5" cy="539.1" r="0.6"/><circle cx="255.9" cy="540.3" r="0.6"/><circle cx="258.1" cy="539.8" r="0.6"/><circle cx="199.5" cy="542.8" r="0.6"/><circle cx="202.6" cy="541.8" r="0.6"/><circle cx="205.8" cy="542.4" r="0.6"/><circle cx="208.5" cy="542.6" r="0.6"/><circle cx="212.5" cy="542.6" r="0.6"/><circle cx="215.5" cy="541.6" r="0.6"/><circle cx="217.9" cy="542.3" r="0.6"/><circle cx="223.3" cy="542.5" r="0.6"/><circle cx="227.3" cy="542.4" r="0.6"/><circle cx="229.8" cy="542.1" r="0.6"/><circle cx="232.2" cy="542.2" r="0.6"/><circle cx="236.8" cy="542.6" r="0.6"/><circle cx="238.7" cy="542.8" r="0.6"/><circle cx="241.5" cy="542.4" r="0.6"/><circle cx="245.3" cy="543.3" r="0.6"/><circle cx="247.9" cy="542.6" r="0.6"/><circle cx="251.9" cy="543.0" r="0.6"/><circle cx="254.3" cy="542.7" r="0.6"/><circle cx="201.6" cy="545.8" r="0.6"/><circle cx="204.7" cy="545.7" r="0.6"/><circle cx="207.7" cy="546.1" r="0.6"/><circle cx="211.4" cy="545.2" r="0.6"/><circle cx="213.3" cy="546.2" r="0.6"/><circle cx="216.3" cy="545.9" r="0.6"/><circle cx="220.0" cy="545.8" r="0.6"/><circle cx="223.4" cy="546.1" r="0.6"/><circle cx="225.0" cy="545.7" r="0.6"/><circle cx="228.6" cy="545.6" r="0.6"/><circle cx="231.4" cy="545.1" r="0.6"/><circle cx="235.0" cy="545.6" r="0.6"/><circle cx="237.1" cy="545.0" r="0.6"/><circle cx="243.6" cy="544.8" r="0.6"/><circle cx="245.8" cy="544.7" r="0.6"/><circle cx="256.1" cy="545.5" r="0.6"/><circle cx="205.4" cy="548.3" r="0.6"/><circle cx="209.4" cy="548.0" r="0.6"/><circle cx="211.5" cy="547.6" r="0.6"/><circle cx="215.3" cy="549.3" r="0.6"/><circle cx="218.9" cy="547.8" r="0.6"/><circle cx="221.4" cy="548.4" r="0.6"/><circle cx="224.3" cy="548.3" r="0.6"/><circle cx="227.9" cy="549.4" r="0.6"/><circle cx="229.3" cy="548.9" r="0.6"/><circle cx="232.4" cy="547.7" r="0.6"/><circle cx="240.0" cy="547.8" r="0.6"/><circle cx="241.8" cy="547.6" r="0.6"/><circle cx="245.2" cy="548.5" r="0.6"/><circle cx="247.9" cy="548.2" r="0.6"/><circle cx="209.8" cy="550.9" r="0.6"/><circle cx="213.6" cy="552.4" r="0.6"/><circle cx="224.8" cy="551.6" r="0.6"/><circle cx="231.2" cy="552.3" r="0.6"/><circle cx="235.3" cy="552.4" r="0.6"/><circle cx="241.0" cy="550.9" r="0.6"/><circle cx="242.7" cy="550.9" r="0.6"/><circle cx="245.9" cy="550.7" r="0.6"/><circle cx="217.4" cy="554.2" r="0.6"/><circle cx="224.5" cy="554.6" r="0.6"/><circle cx="227.4" cy="553.9" r="0.6"/><circle cx="229.4" cy="553.9" r="0.6"/><circle cx="232.8" cy="554.4" r="0.6"/><circle cx="238.9" cy="554.2" r="0.6"/></g>
 </g>

 <circle cx="55.5" cy="516" r="41" fill="none" stroke="#333" stroke-width="1.5" stroke-dasharray="3.8 2.4"/>
 <circle cx="142.5" cy="516" r="41" fill="none" stroke="#333" stroke-width="1.5" stroke-dasharray="3.8 2.4"/>
 <circle cx="229.4" cy="516" r="41" fill="none" stroke="#333" stroke-width="1.5" stroke-dasharray="3.8 2.4"/>
</g>
<!-- pile -->
<path d="M272.5,235 Q301,256 322,291 Q327,299 320,302 Q272,323 225,302 Q217,299 222,291 Q244,256 272.5,235Z" fill="#bababa"/>
</svg>
<div class="bx" style="left:13px;top:98px;width:102px;height:27px"></div>
<div class="bx" style="left:320px;top:119px;width:100px;height:27px"></div>
<div class="bx" style="left:540px;top:164px;width:102px;height:28px"></div>
<div class="bx" style="left:717px;top:121px;width:80px;height:27px"></div>
<div class="bx" style="left:676px;top:236px;width:113px;height:27px"></div>
<div class="bx" style="left:13px;top:415px;width:81px;height:28px"></div>
<div class="bx" style="left:377px;top:521px;width:68px;height:25px"></div>
<div class="bx" style="left:813px;top:521px;width:68px;height:25px"></div>
<div class="bx" style="left:547px;top:542px;width:68px;height:25px"></div>
<div class="tx" style="left:156.5px;top:40.5px;">料仓</div>
<div class="tx" style="left:22.5px;top:105.3px;">颚式破碎机</div>
<div class="tx" style="left:325.7px;top:125.1px;">振动给料机</div>
<div class="tx" style="left:546.3px;top:170.3px;">振动给料机</div>
<div class="tx" style="left:723.8px;top:126.4px;">圆振动筛</div>
<div class="tx" style="left:681.5px;top:241.8px;">反击式破碎机</div>
<div class="tx" style="left:250.5px;top:273px; font-size:19.8px;">粗料</div>
<div class="tx" style="left:18.7px;top:420.5px;">圆振动筛</div>
<div class="tx" style="left:386.3px;top:525.7px;">冷却机</div>
<div class="tx" style="left:821.7px;top:525.7px;">球磨机</div>
<div class="tx" style="left:556.7px;top:546.5px;">回转窑</div>
<div class="tx" style="left:31.2px;top:568.5px;">规格1</div>
<div class="tx" style="left:119.5px;top:568.5px;">规格2</div>
<div class="tx" style="left:208.1px;top:568.5px;">规格3</div>
</body></html>
